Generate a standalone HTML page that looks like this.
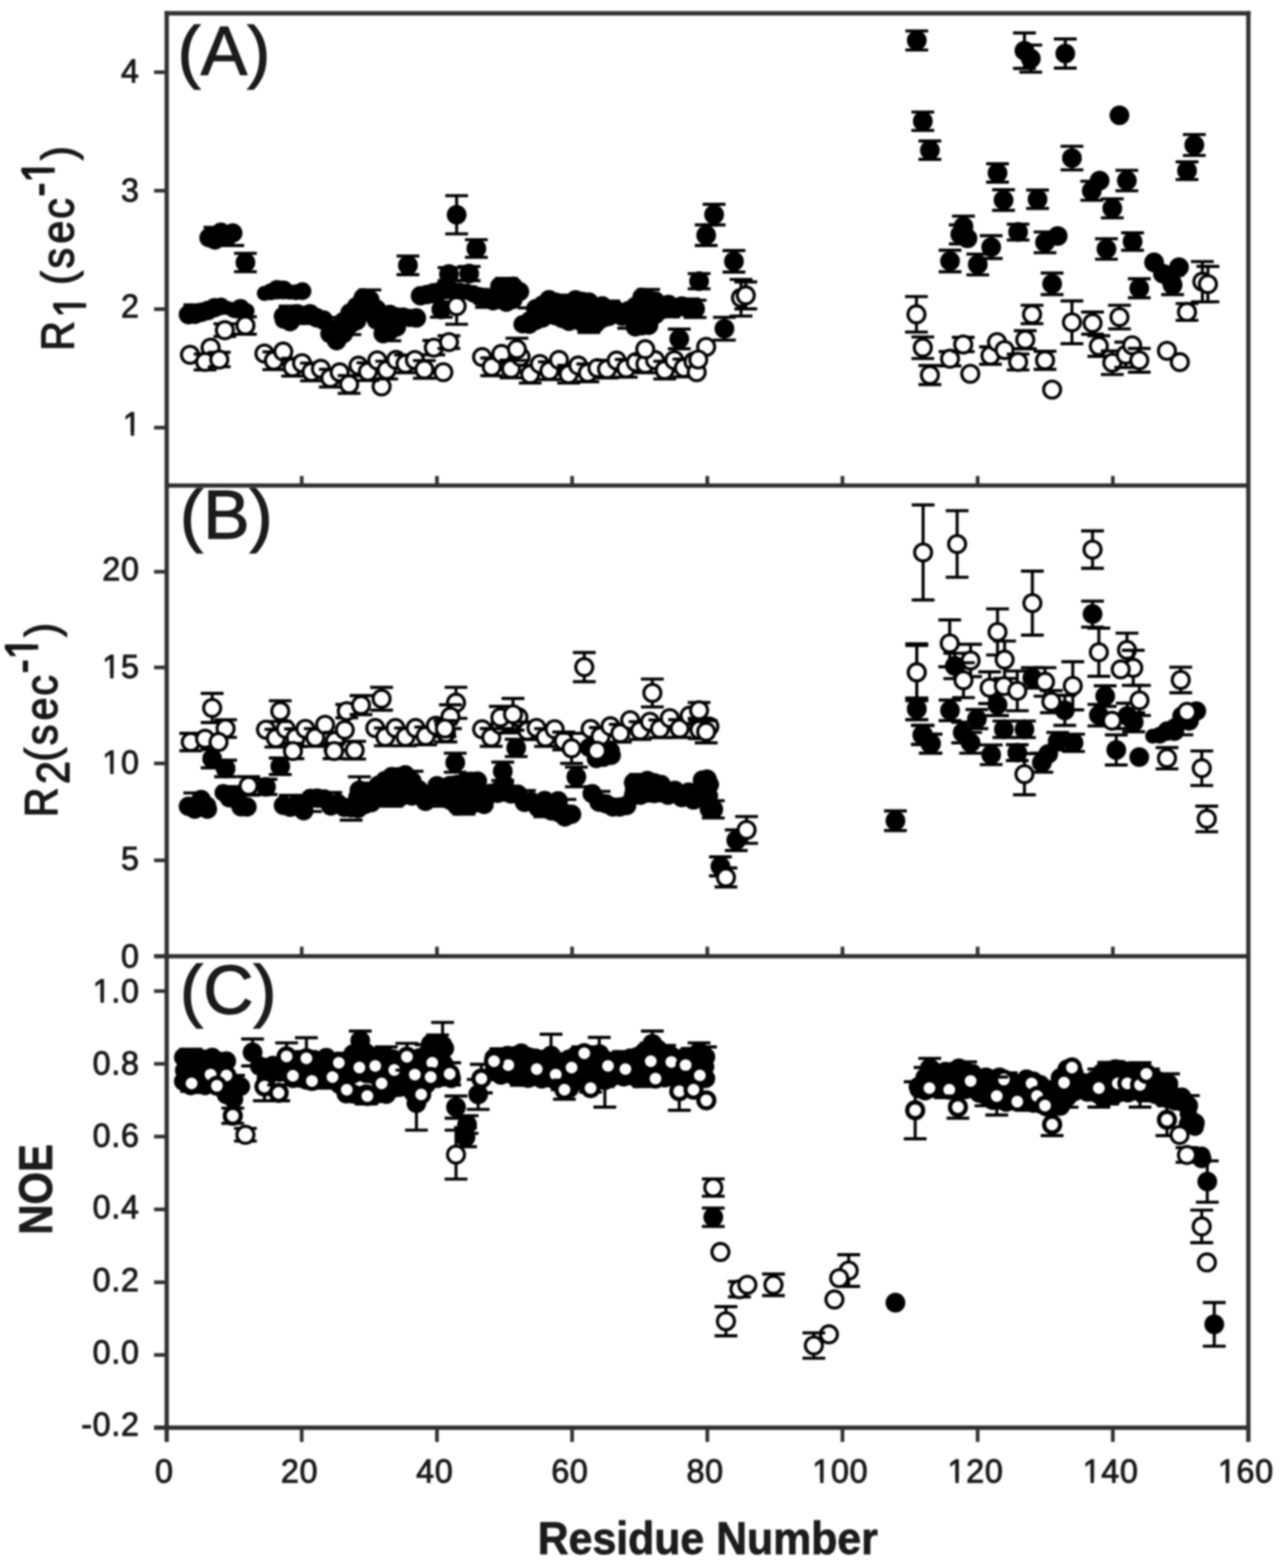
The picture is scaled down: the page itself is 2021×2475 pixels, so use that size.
<!DOCTYPE html><html><head><meta charset="utf-8"><title>Figure</title>
<style>html,body{margin:0;padding:0;background:#fff}svg{display:block}text{font-family:"Liberation Sans",Arial,sans-serif;fill:#1c1c1c}</style></head><body>
<svg width="2021" height="2475" viewBox="0 0 2021 2475">
<rect width="2021" height="2475" fill="#fff"/>
<defs><filter id="soft" x="0" y="0" width="100%" height="100%" filterUnits="userSpaceOnUse" color-interpolation-filters="sRGB"><feGaussianBlur stdDeviation="1.5"/></filter></defs>
<g filter="url(#soft)">
<rect width="2021" height="2475" fill="#fff"/>
<g id="pA">
<circle cx="330.0" cy="375.3" r="15.3" fill="#000"/>
<circle cx="339.4" cy="378.8" r="15.3" fill="#000"/>
<path d="M321.4 358.8H357.4" stroke="#000" stroke-width="4.8"/>
<circle cx="348.8" cy="366.6" r="15.3" fill="#000"/>
<circle cx="348.8" cy="371.6" r="13.8" fill="#000"/>
<circle cx="358.1" cy="374.7" r="15.3" fill="#000"/>
<circle cx="358.1" cy="369.4" r="13.8" fill="#000"/>
<circle cx="367.5" cy="367.8" r="15.3" fill="#000"/>
<path d="M349.5 387.5H385.5" stroke="#000" stroke-width="4.8"/>
<circle cx="417.5" cy="463.1" r="11.9" fill="#000"/>
<circle cx="427.5" cy="460.6" r="13.4" fill="#000"/>
<circle cx="437.5" cy="457.4" r="15.3" fill="#000"/>
<circle cx="447.5" cy="457.7" r="15.0" fill="#000"/>
<circle cx="457.5" cy="460.9" r="12.2" fill="#000"/>
<circle cx="467.5" cy="461.2" r="12.5" fill="#000"/>
<circle cx="477.5" cy="459.6" r="14.1" fill="#000"/>
<circle cx="297.5" cy="496.6" r="15.3" fill="#000"/>
<circle cx="307.8" cy="496.1" r="15.3" fill="#000"/>
<path d="M289.8 481.1H325.8" stroke="#000" stroke-width="4.8"/>
<circle cx="318.1" cy="492.9" r="15.3" fill="#000"/>
<circle cx="328.3" cy="490.1" r="15.3" fill="#000"/>
<circle cx="338.6" cy="485.7" r="15.3" fill="#000"/>
<circle cx="348.9" cy="483.7" r="14.0" fill="#000"/>
<circle cx="359.2" cy="486.2" r="11.2" fill="#000"/>
<circle cx="369.4" cy="489.3" r="12.8" fill="#000"/>
<circle cx="379.7" cy="487.2" r="15.3" fill="#000"/>
<circle cx="390.0" cy="490.6" r="11.9" fill="#000"/>
<circle cx="447.5" cy="499.1" r="15.3" fill="#000"/>
<circle cx="447.5" cy="505.0" r="13.8" fill="#000"/>
<circle cx="458.0" cy="507.8" r="15.3" fill="#000"/>
<circle cx="458.0" cy="501.9" r="13.8" fill="#000"/>
<path d="M440.0 483.1H476.0" stroke="#000" stroke-width="4.8"/>
<circle cx="468.5" cy="495.3" r="15.3" fill="#000"/>
<circle cx="479.0" cy="497.9" r="15.3" fill="#000"/>
<circle cx="489.5" cy="495.3" r="15.3" fill="#000"/>
<path d="M471.5 510.7H507.5" stroke="#000" stroke-width="4.8"/>
<circle cx="500.0" cy="501.6" r="15.3" fill="#000"/>
<circle cx="510.5" cy="505.1" r="15.3" fill="#000"/>
<circle cx="521.0" cy="526.7" r="15.3" fill="#000"/>
<circle cx="521.0" cy="520.4" r="13.8" fill="#000"/>
<path d="M503.0 501.2H539.0" stroke="#000" stroke-width="4.8"/>
<circle cx="531.5" cy="519.3" r="15.3" fill="#000"/>
<circle cx="531.5" cy="537.7" r="15.3" fill="#000"/>
<circle cx="531.5" cy="530.0" r="13.8" fill="#000"/>
<circle cx="542.0" cy="526.7" r="15.3" fill="#000"/>
<circle cx="542.0" cy="507.8" r="15.3" fill="#000"/>
<circle cx="542.0" cy="515.8" r="13.8" fill="#000"/>
<circle cx="552.5" cy="494.1" r="15.3" fill="#000"/>
<circle cx="552.5" cy="512.3" r="15.3" fill="#000"/>
<circle cx="552.5" cy="504.7" r="13.8" fill="#000"/>
<path d="M534.5 528.1H570.5" stroke="#000" stroke-width="4.8"/>
<circle cx="563.0" cy="506.2" r="15.3" fill="#000"/>
<circle cx="563.0" cy="483.8" r="15.3" fill="#000"/>
<circle cx="563.0" cy="493.5" r="13.8" fill="#000"/>
<circle cx="573.5" cy="470.1" r="15.3" fill="#000"/>
<circle cx="573.5" cy="493.4" r="15.3" fill="#000"/>
<circle cx="573.5" cy="483.2" r="13.8" fill="#000"/>
<circle cx="584.0" cy="491.6" r="15.3" fill="#000"/>
<circle cx="584.0" cy="473.4" r="15.3" fill="#000"/>
<circle cx="584.0" cy="481.0" r="13.8" fill="#000"/>
<path d="M566.0 457.6H602.0" stroke="#000" stroke-width="4.8"/>
<circle cx="594.5" cy="488.0" r="15.3" fill="#000"/>
<circle cx="594.5" cy="505.2" r="15.3" fill="#000"/>
<circle cx="594.5" cy="498.1" r="13.8" fill="#000"/>
<circle cx="605.0" cy="526.6" r="15.3" fill="#000"/>
<circle cx="605.0" cy="499.6" r="15.3" fill="#000"/>
<circle cx="605.0" cy="511.6" r="13.8" fill="#000"/>
<circle cx="615.5" cy="496.4" r="15.3" fill="#000"/>
<circle cx="615.5" cy="522.0" r="15.3" fill="#000"/>
<circle cx="615.5" cy="510.7" r="13.8" fill="#000"/>
<path d="M597.5 537.8H633.5" stroke="#000" stroke-width="4.8"/>
<circle cx="626.0" cy="516.2" r="15.3" fill="#000"/>
<circle cx="626.0" cy="500.3" r="15.3" fill="#000"/>
<circle cx="626.0" cy="506.8" r="13.8" fill="#000"/>
<circle cx="636.5" cy="500.6" r="15.3" fill="#000"/>
<circle cx="647.0" cy="501.8" r="14.4" fill="#000"/>
<circle cx="657.5" cy="501.9" r="15.3" fill="#000"/>
<circle cx="663.9" cy="466.9" r="15.3" fill="#000"/>
<circle cx="674.4" cy="464.9" r="15.3" fill="#000"/>
<circle cx="684.8" cy="462.1" r="15.3" fill="#000"/>
<circle cx="695.2" cy="459.6" r="15.1" fill="#000"/>
<circle cx="705.6" cy="458.4" r="14.0" fill="#000"/>
<circle cx="716.1" cy="458.7" r="13.4" fill="#000"/>
<circle cx="726.5" cy="459.3" r="13.0" fill="#000"/>
<circle cx="736.9" cy="460.4" r="13.0" fill="#000"/>
<circle cx="747.3" cy="463.7" r="13.7" fill="#000"/>
<circle cx="757.8" cy="468.3" r="15.0" fill="#000"/>
<circle cx="768.2" cy="469.6" r="15.3" fill="#000"/>
<path d="M750.2 485.0H786.2" stroke="#000" stroke-width="4.8"/>
<circle cx="778.6" cy="474.6" r="15.3" fill="#000"/>
<circle cx="778.6" cy="469.2" r="13.8" fill="#000"/>
<circle cx="789.0" cy="452.2" r="15.3" fill="#000"/>
<circle cx="789.0" cy="472.7" r="15.3" fill="#000"/>
<circle cx="789.0" cy="463.9" r="13.8" fill="#000"/>
<circle cx="799.5" cy="476.9" r="15.3" fill="#000"/>
<circle cx="799.5" cy="455.3" r="15.3" fill="#000"/>
<circle cx="799.5" cy="464.6" r="13.8" fill="#000"/>
<path d="M781.5 439.5H817.5" stroke="#000" stroke-width="4.8"/>
<circle cx="809.9" cy="451.9" r="15.3" fill="#000"/>
<circle cx="809.9" cy="472.8" r="15.3" fill="#000"/>
<circle cx="809.9" cy="463.9" r="13.8" fill="#000"/>
<circle cx="820.3" cy="460.2" r="15.3" fill="#000"/>
<circle cx="825.0" cy="511.9" r="14.4" fill="#000"/>
<circle cx="835.5" cy="511.8" r="15.3" fill="#000"/>
<circle cx="835.5" cy="505.3" r="13.8" fill="#000"/>
<path d="M817.5 486.0H853.5" stroke="#000" stroke-width="4.8"/>
<circle cx="846.0" cy="487.4" r="15.3" fill="#000"/>
<circle cx="846.0" cy="505.6" r="15.3" fill="#000"/>
<circle cx="846.0" cy="498.0" r="13.8" fill="#000"/>
<circle cx="856.4" cy="501.9" r="15.3" fill="#000"/>
<circle cx="856.4" cy="481.8" r="15.3" fill="#000"/>
<circle cx="856.4" cy="490.4" r="13.8" fill="#000"/>
<circle cx="866.9" cy="473.0" r="15.3" fill="#000"/>
<circle cx="866.9" cy="493.3" r="15.3" fill="#000"/>
<circle cx="866.9" cy="484.7" r="13.8" fill="#000"/>
<path d="M848.9 509.1H884.9" stroke="#000" stroke-width="4.8"/>
<circle cx="877.4" cy="498.4" r="15.3" fill="#000"/>
<circle cx="877.4" cy="477.0" r="15.3" fill="#000"/>
<circle cx="877.4" cy="486.2" r="13.8" fill="#000"/>
<circle cx="887.9" cy="483.4" r="15.3" fill="#000"/>
<circle cx="887.9" cy="502.7" r="15.3" fill="#000"/>
<circle cx="887.9" cy="494.6" r="13.8" fill="#000"/>
<circle cx="898.4" cy="507.2" r="15.3" fill="#000"/>
<circle cx="898.4" cy="481.6" r="15.3" fill="#000"/>
<circle cx="898.4" cy="492.9" r="13.8" fill="#000"/>
<path d="M880.4 465.8H916.4" stroke="#000" stroke-width="4.8"/>
<circle cx="908.8" cy="473.4" r="15.3" fill="#000"/>
<circle cx="908.8" cy="504.2" r="15.3" fill="#000"/>
<circle cx="908.8" cy="490.3" r="13.8" fill="#000"/>
<circle cx="919.3" cy="508.9" r="15.3" fill="#000"/>
<circle cx="919.3" cy="475.8" r="15.3" fill="#000"/>
<circle cx="919.3" cy="490.9" r="13.8" fill="#000"/>
<circle cx="929.8" cy="476.7" r="15.3" fill="#000"/>
<circle cx="929.8" cy="509.0" r="15.3" fill="#000"/>
<circle cx="929.8" cy="494.3" r="13.8" fill="#000"/>
<path d="M911.8 524.8H947.8" stroke="#000" stroke-width="4.8"/>
<circle cx="940.3" cy="510.8" r="15.3" fill="#000"/>
<circle cx="940.3" cy="485.8" r="15.3" fill="#000"/>
<circle cx="940.3" cy="496.8" r="13.8" fill="#000"/>
<circle cx="950.8" cy="482.8" r="15.3" fill="#000"/>
<circle cx="950.8" cy="502.6" r="15.3" fill="#000"/>
<circle cx="950.8" cy="494.2" r="13.8" fill="#000"/>
<circle cx="961.2" cy="499.4" r="15.3" fill="#000"/>
<circle cx="961.2" cy="493.8" r="13.8" fill="#000"/>
<path d="M943.2 475.2H979.2" stroke="#000" stroke-width="4.8"/>
<circle cx="971.7" cy="489.0" r="15.3" fill="#000"/>
<circle cx="982.2" cy="499.1" r="15.3" fill="#000"/>
<circle cx="982.2" cy="494.4" r="13.8" fill="#000"/>
<circle cx="992.7" cy="490.4" r="15.3" fill="#000"/>
<circle cx="992.7" cy="497.8" r="13.8" fill="#000"/>
<path d="M974.7 518.0H1010.7" stroke="#000" stroke-width="4.8"/>
<circle cx="1003.2" cy="516.0" r="15.3" fill="#000"/>
<circle cx="1003.2" cy="483.8" r="15.3" fill="#000"/>
<circle cx="1003.2" cy="498.4" r="13.8" fill="#000"/>
<circle cx="1013.7" cy="469.3" r="15.3" fill="#000"/>
<circle cx="1013.7" cy="514.1" r="15.3" fill="#000"/>
<circle cx="1013.7" cy="493.2" r="13.8" fill="#000"/>
<circle cx="1024.1" cy="513.5" r="15.3" fill="#000"/>
<circle cx="1024.1" cy="472.6" r="15.3" fill="#000"/>
<circle cx="1024.1" cy="491.6" r="13.8" fill="#000"/>
<path d="M1006.1 456.8H1042.1" stroke="#000" stroke-width="4.8"/>
<circle cx="1034.6" cy="475.3" r="15.3" fill="#000"/>
<circle cx="1034.6" cy="496.4" r="15.3" fill="#000"/>
<circle cx="1034.6" cy="487.3" r="13.8" fill="#000"/>
<circle cx="1045.1" cy="488.7" r="15.3" fill="#000"/>
<circle cx="1045.1" cy="483.9" r="13.8" fill="#000"/>
<circle cx="1055.6" cy="480.6" r="15.3" fill="#000"/>
<path d="M1037.6 500.0H1073.6" stroke="#000" stroke-width="4.8"/>
<circle cx="1066.1" cy="487.2" r="15.3" fill="#000"/>
<circle cx="1076.5" cy="483.0" r="15.3" fill="#000"/>
<circle cx="1087.0" cy="487.2" r="15.3" fill="#000"/>
<path d="M1069.0 471.9H1105.0" stroke="#000" stroke-width="4.8"/>
<circle cx="1097.5" cy="490.0" r="12.5" fill="#000"/>
<path d="M387.5 399.8V428.8M369.5 399.8H405.5M369.5 428.8H405.5" stroke="#000" stroke-width="4.8" fill="none"/><circle cx="387.5" cy="414.2" r="15.6" fill="#000"/>
<path d="M721.0 308.8V369.2M703.0 308.8H739.0M703.0 369.2H739.0" stroke="#000" stroke-width="4.8" fill="none"/><circle cx="721.0" cy="339.0" r="15.6" fill="#000"/>
<path d="M752.1 378.4V406.1M734.1 378.4H770.1M734.1 406.1H770.1" stroke="#000" stroke-width="4.8" fill="none"/><circle cx="752.1" cy="392.2" r="15.6" fill="#000"/>
<path d="M644.1 404.2V433.5M626.1 404.2H662.1M626.1 433.5H662.1" stroke="#000" stroke-width="4.8" fill="none"/><circle cx="644.1" cy="418.8" r="15.6" fill="#000"/>
<path d="M708.9 422.3V443.0M690.9 422.3H726.9M690.9 443.0H726.9" stroke="#000" stroke-width="4.8" fill="none"/><circle cx="708.9" cy="432.7" r="15.6" fill="#000"/>
<path d="M740.8 420.6V443.0M722.8 420.6H758.8M722.8 443.0H758.8" stroke="#000" stroke-width="4.8" fill="none"/><circle cx="740.8" cy="431.8" r="15.6" fill="#000"/>
<path d="M696.8 476.4V500.6M678.8 476.4H714.8M678.8 500.6H714.8" stroke="#000" stroke-width="4.8" fill="none"/><circle cx="696.8" cy="488.5" r="15.6" fill="#000"/>
<path d="M1072.5 519.5V550.5M1054.5 519.5H1090.5M1054.5 550.5H1090.5" stroke="#000" stroke-width="4.8" fill="none"/><circle cx="1072.5" cy="535.0" r="15.6" fill="#000"/>
<path d="M1127.5 322.5V355.0M1109.5 322.5H1145.5M1109.5 355.0H1145.5" stroke="#000" stroke-width="4.8" fill="none"/><circle cx="1127.5" cy="338.8" r="15.6" fill="#000"/>
<path d="M1115.0 355.0V387.5M1097.0 355.0H1133.0M1097.0 387.5H1133.0" stroke="#000" stroke-width="4.8" fill="none"/><circle cx="1115.0" cy="371.2" r="15.6" fill="#000"/>
<path d="M1158.8 395.5V429.5M1140.8 395.5H1176.8M1140.8 429.5H1176.8" stroke="#000" stroke-width="4.8" fill="none"/><circle cx="1158.8" cy="412.5" r="15.6" fill="#000"/>
<path d="M1103.8 431.8V455.8M1085.8 431.8H1121.8M1085.8 455.8H1121.8" stroke="#000" stroke-width="4.8" fill="none"/><circle cx="1103.8" cy="443.8" r="15.6" fill="#000"/>
<path d="M1143.8 500.8V536.8M1125.8 500.8H1161.8M1125.8 536.8H1161.8" stroke="#000" stroke-width="4.8" fill="none"/><circle cx="1143.8" cy="518.8" r="15.6" fill="#000"/>
<path d="M1097.5 473.8V501.2M1079.5 473.8H1115.5M1079.5 501.2H1115.5" stroke="#000" stroke-width="4.8" fill="none"/><circle cx="1097.5" cy="487.5" r="15.6" fill="#000"/>
<path d="M1447.5 48.8V78.8M1429.5 48.8H1465.5M1429.5 78.8H1465.5" stroke="#000" stroke-width="4.8" fill="none"/><circle cx="1447.5" cy="63.8" r="15.6" fill="#000"/>
<path d="M1617.5 52.0V108.0M1599.5 52.0H1635.5M1599.5 108.0H1635.5" stroke="#000" stroke-width="4.8" fill="none"/><circle cx="1617.5" cy="80.0" r="15.6" fill="#000"/>
<path d="M1627.5 71.2V113.8M1609.5 71.2H1645.5M1609.5 113.8H1645.5" stroke="#000" stroke-width="4.8" fill="none"/><circle cx="1627.5" cy="92.5" r="15.6" fill="#000"/>
<path d="M1682.0 61.5V107.5M1664.0 61.5H1700.0M1664.0 107.5H1700.0" stroke="#000" stroke-width="4.8" fill="none"/><circle cx="1682.0" cy="84.5" r="15.6" fill="#000"/>
<path d="M1457.0 176.8V205.8M1439.0 176.8H1475.0M1439.0 205.8H1475.0" stroke="#000" stroke-width="4.8" fill="none"/><circle cx="1457.0" cy="191.2" r="15.6" fill="#000"/>
<path d="M1468.2 222.5V251.5M1450.2 222.5H1486.2M1450.2 251.5H1486.2" stroke="#000" stroke-width="4.8" fill="none"/><circle cx="1468.2" cy="237.0" r="15.6" fill="#000"/>
<circle cx="1767.5" cy="182.0" r="15.6" fill="#000"/>
<path d="M1692.5 230.8V268.2M1674.5 230.8H1710.5M1674.5 268.2H1710.5" stroke="#000" stroke-width="4.8" fill="none"/><circle cx="1692.5" cy="249.5" r="15.6" fill="#000"/>
<path d="M1575.0 258.5V287.5M1557.0 258.5H1593.0M1557.0 287.5H1593.0" stroke="#000" stroke-width="4.8" fill="none"/><circle cx="1575.0" cy="273.0" r="15.6" fill="#000"/>
<path d="M1584.5 299.5V332.0M1566.5 299.5H1602.5M1566.5 332.0H1602.5" stroke="#000" stroke-width="4.8" fill="none"/><circle cx="1584.5" cy="315.8" r="15.6" fill="#000"/>
<path d="M1638.2 300.0V329.0M1620.2 300.0H1656.2M1620.2 329.0H1656.2" stroke="#000" stroke-width="4.8" fill="none"/><circle cx="1638.2" cy="314.5" r="15.6" fill="#000"/>
<circle cx="1736.2" cy="285.0" r="15.6" fill="#000"/>
<path d="M1723.8 286.2V316.2M1705.8 286.2H1741.8M1705.8 316.2H1741.8" stroke="#000" stroke-width="4.8" fill="none"/><circle cx="1723.8" cy="301.2" r="15.6" fill="#000"/>
<path d="M1779.2 268.8V301.2M1761.2 268.8H1797.2M1761.2 301.2H1797.2" stroke="#000" stroke-width="4.8" fill="none"/><circle cx="1779.2" cy="285.0" r="15.6" fill="#000"/>
<path d="M1756.2 313.8V343.8M1738.2 313.8H1774.2M1738.2 343.8H1774.2" stroke="#000" stroke-width="4.8" fill="none"/><circle cx="1756.2" cy="328.8" r="15.6" fill="#000"/>
<path d="M1521.2 341.2V373.8M1503.2 341.2H1539.2M1503.2 373.8H1539.2" stroke="#000" stroke-width="4.8" fill="none"/><circle cx="1521.2" cy="357.5" r="15.6" fill="#000"/>
<path d="M1516.2 355.0V385.0M1498.2 355.0H1534.2M1498.2 385.0H1534.2" stroke="#000" stroke-width="4.8" fill="none"/><circle cx="1516.2" cy="370.0" r="15.6" fill="#000"/>
<circle cx="1527.5" cy="376.2" r="15.6" fill="#000"/>
<path d="M1565.0 372.0V408.0M1547.0 372.0H1583.0M1547.0 408.0H1583.0" stroke="#000" stroke-width="4.8" fill="none"/><circle cx="1565.0" cy="390.0" r="15.6" fill="#000"/>
<path d="M1500.0 395.0V429.0M1482.0 395.0H1518.0M1482.0 429.0H1518.0" stroke="#000" stroke-width="4.8" fill="none"/><circle cx="1500.0" cy="412.0" r="15.6" fill="#000"/>
<path d="M1543.8 401.2V433.8M1525.8 401.2H1561.8M1525.8 433.8H1561.8" stroke="#000" stroke-width="4.8" fill="none"/><circle cx="1543.8" cy="417.5" r="15.6" fill="#000"/>
<path d="M1607.5 353.8V378.8M1589.5 353.8H1625.5M1589.5 378.8H1625.5" stroke="#000" stroke-width="4.8" fill="none"/><circle cx="1607.5" cy="366.2" r="15.6" fill="#000"/>
<path d="M1650.0 366.2V398.8M1632.0 366.2H1668.0M1632.0 398.8H1668.0" stroke="#000" stroke-width="4.8" fill="none"/><circle cx="1650.0" cy="382.5" r="15.6" fill="#000"/>
<circle cx="1670.0" cy="372.5" r="15.6" fill="#000"/>
<path d="M1747.0 376.8V409.2M1729.0 376.8H1765.0M1729.0 409.2H1765.0" stroke="#000" stroke-width="4.8" fill="none"/><circle cx="1747.0" cy="393.0" r="15.6" fill="#000"/>
<path d="M1788.2 367.5V395.0M1770.2 367.5H1806.2M1770.2 395.0H1806.2" stroke="#000" stroke-width="4.8" fill="none"/><circle cx="1788.2" cy="381.2" r="15.6" fill="#000"/>
<path d="M1661.2 431.0V465.0M1643.2 431.0H1679.2M1643.2 465.0H1679.2" stroke="#000" stroke-width="4.8" fill="none"/><circle cx="1661.2" cy="448.0" r="15.6" fill="#000"/>
<path d="M1798.8 440.0V470.0M1780.8 440.0H1816.8M1780.8 470.0H1816.8" stroke="#000" stroke-width="4.8" fill="none"/><circle cx="1798.8" cy="455.0" r="15.6" fill="#000"/>
<path d="M1885.7 212.4V245.4M1867.7 212.4H1903.7M1867.7 245.4H1903.7" stroke="#000" stroke-width="4.8" fill="none"/><circle cx="1885.7" cy="228.9" r="15.6" fill="#000"/>
<path d="M1874.2 255.5V283.4M1856.2 255.5H1892.2M1856.2 283.4H1892.2" stroke="#000" stroke-width="4.8" fill="none"/><circle cx="1874.2" cy="269.5" r="15.6" fill="#000"/>
<circle cx="1822.2" cy="414.2" r="15.6" fill="#000"/>
<circle cx="1836.2" cy="432.0" r="15.6" fill="#000"/>
<circle cx="1848.9" cy="442.1" r="15.6" fill="#000"/>
<circle cx="1861.5" cy="421.8" r="15.6" fill="#000"/>
<path d="M1851.4 434.5V465.0M1833.4 434.5H1869.4M1833.4 465.0H1869.4" stroke="#000" stroke-width="4.8" fill="none"/><circle cx="1851.4" cy="449.7" r="15.6" fill="#000"/>
<path d="M355.0 511.2V531.2M337.0 511.2H373.0M337.0 531.2H373.0" stroke="#000" stroke-width="4.8" fill="none"/><circle cx="355.0" cy="521.2" r="13.4" fill="#fff" stroke="#000" stroke-width="4.9"/>
<path d="M387.5 500.0V527.5M369.5 500.0H405.5M369.5 527.5H405.5" stroke="#000" stroke-width="4.8" fill="none"/><circle cx="387.5" cy="513.8" r="13.4" fill="#fff" stroke="#000" stroke-width="4.9"/>
<circle cx="300.0" cy="560.0" r="13.4" fill="#fff" stroke="#000" stroke-width="4.9"/>
<circle cx="332.5" cy="548.8" r="13.4" fill="#fff" stroke="#000" stroke-width="4.9"/>
<path d="M323.8 558.8V583.8M305.8 558.8H341.8M305.8 583.8H341.8" stroke="#000" stroke-width="4.8" fill="none"/><circle cx="323.8" cy="571.2" r="13.4" fill="#fff" stroke="#000" stroke-width="4.9"/>
<path d="M346.2 556.2V578.8M328.2 556.2H364.2M328.2 578.8H364.2" stroke="#000" stroke-width="4.8" fill="none"/><circle cx="346.2" cy="567.5" r="13.4" fill="#fff" stroke="#000" stroke-width="4.9"/>
<circle cx="602.5" cy="610.0" r="13.4" fill="#fff" stroke="#000" stroke-width="4.9"/>
<circle cx="417.5" cy="558.0" r="13.4" fill="#fff" stroke="#000" stroke-width="4.9"/>
<path d="M432.4 555.3V583.3M414.4 555.3H450.4M414.4 583.3H450.4" stroke="#000" stroke-width="4.8" fill="none"/><circle cx="432.4" cy="569.3" r="13.4" fill="#fff" stroke="#000" stroke-width="4.9"/>
<circle cx="447.2" cy="554.9" r="13.4" fill="#fff" stroke="#000" stroke-width="4.9"/>
<path d="M462.1 565.7V593.7M444.1 565.7H480.1M444.1 593.7H480.1" stroke="#000" stroke-width="4.8" fill="none"/><circle cx="462.1" cy="579.7" r="13.4" fill="#fff" stroke="#000" stroke-width="4.9"/>
<circle cx="476.9" cy="573.3" r="13.4" fill="#fff" stroke="#000" stroke-width="4.9"/>
<path d="M491.8 573.1V601.1M473.8 573.1H509.8M473.8 601.1H509.8" stroke="#000" stroke-width="4.8" fill="none"/><circle cx="491.8" cy="587.1" r="13.4" fill="#fff" stroke="#000" stroke-width="4.9"/>
<circle cx="506.6" cy="582.1" r="13.4" fill="#fff" stroke="#000" stroke-width="4.9"/>
<path d="M521.5 582.8V610.8M503.5 582.8H539.5M503.5 610.8H539.5" stroke="#000" stroke-width="4.8" fill="none"/><circle cx="521.5" cy="596.8" r="13.4" fill="#fff" stroke="#000" stroke-width="4.9"/>
<circle cx="536.3" cy="587.7" r="13.4" fill="#fff" stroke="#000" stroke-width="4.9"/>
<path d="M551.2 592.8V620.8M533.2 592.8H569.2M533.2 620.8H569.2" stroke="#000" stroke-width="4.8" fill="none"/><circle cx="551.2" cy="606.8" r="13.4" fill="#fff" stroke="#000" stroke-width="4.9"/>
<circle cx="566.0" cy="577.1" r="13.4" fill="#fff" stroke="#000" stroke-width="4.9"/>
<path d="M580.9 572.6V600.6M562.9 572.6H598.9M562.9 600.6H598.9" stroke="#000" stroke-width="4.8" fill="none"/><circle cx="580.9" cy="586.6" r="13.4" fill="#fff" stroke="#000" stroke-width="4.9"/>
<circle cx="595.7" cy="568.8" r="13.4" fill="#fff" stroke="#000" stroke-width="4.9"/>
<path d="M610.6 570.1V598.1M592.6 570.1H628.6M592.6 598.1H628.6" stroke="#000" stroke-width="4.8" fill="none"/><circle cx="610.6" cy="584.1" r="13.4" fill="#fff" stroke="#000" stroke-width="4.9"/>
<circle cx="625.4" cy="568.1" r="13.4" fill="#fff" stroke="#000" stroke-width="4.9"/>
<path d="M640.3 560.3V588.3M622.3 560.3H658.3M622.3 588.3H658.3" stroke="#000" stroke-width="4.8" fill="none"/><circle cx="640.3" cy="574.3" r="13.4" fill="#fff" stroke="#000" stroke-width="4.9"/>
<circle cx="655.1" cy="568.3" r="13.4" fill="#fff" stroke="#000" stroke-width="4.9"/>
<path d="M670.0 569.2V597.2M652.0 569.2H688.0M652.0 597.2H688.0" stroke="#000" stroke-width="4.8" fill="none"/><circle cx="670.0" cy="583.2" r="13.4" fill="#fff" stroke="#000" stroke-width="4.9"/>
<path d="M685.0 537.5V560.0M667.0 537.5H703.0M667.0 560.0H703.0" stroke="#000" stroke-width="4.8" fill="none"/><circle cx="685.0" cy="548.8" r="13.4" fill="#fff" stroke="#000" stroke-width="4.9"/>
<path d="M721.0 454.8V511.8M703.0 454.8H739.0M703.0 511.8H739.0" stroke="#000" stroke-width="4.8" fill="none"/><circle cx="721.0" cy="483.3" r="13.4" fill="#fff" stroke="#000" stroke-width="4.9"/>
<path d="M708.8 530.0V550.0M690.8 530.0H726.8M690.8 550.0H726.8" stroke="#000" stroke-width="4.8" fill="none"/><circle cx="708.8" cy="540.0" r="13.4" fill="#fff" stroke="#000" stroke-width="4.9"/>
<circle cx="700.0" cy="587.5" r="13.4" fill="#fff" stroke="#000" stroke-width="4.9"/>
<circle cx="761.2" cy="563.6" r="13.4" fill="#fff" stroke="#000" stroke-width="4.9"/>
<path d="M776.4 565.0V593.0M758.4 565.0H794.4M758.4 593.0H794.4" stroke="#000" stroke-width="4.8" fill="none"/><circle cx="776.4" cy="579.0" r="13.4" fill="#fff" stroke="#000" stroke-width="4.9"/>
<circle cx="791.6" cy="558.6" r="13.4" fill="#fff" stroke="#000" stroke-width="4.9"/>
<path d="M806.8 568.3V596.3M788.8 568.3H824.8M788.8 596.3H824.8" stroke="#000" stroke-width="4.8" fill="none"/><circle cx="806.8" cy="582.3" r="13.4" fill="#fff" stroke="#000" stroke-width="4.9"/>
<circle cx="821.9" cy="563.2" r="13.4" fill="#fff" stroke="#000" stroke-width="4.9"/>
<path d="M837.1 576.7V604.7M819.1 576.7H855.1M819.1 604.7H855.1" stroke="#000" stroke-width="4.8" fill="none"/><circle cx="837.1" cy="590.7" r="13.4" fill="#fff" stroke="#000" stroke-width="4.9"/>
<circle cx="852.3" cy="574.5" r="13.4" fill="#fff" stroke="#000" stroke-width="4.9"/>
<path d="M867.4 571.2V599.2M849.4 571.2H885.4M849.4 599.2H885.4" stroke="#000" stroke-width="4.8" fill="none"/><circle cx="867.4" cy="585.2" r="13.4" fill="#fff" stroke="#000" stroke-width="4.9"/>
<circle cx="882.6" cy="568.1" r="13.4" fill="#fff" stroke="#000" stroke-width="4.9"/>
<path d="M897.8 576.7V604.7M879.8 576.7H915.8M879.8 604.7H915.8" stroke="#000" stroke-width="4.8" fill="none"/><circle cx="897.8" cy="590.7" r="13.4" fill="#fff" stroke="#000" stroke-width="4.9"/>
<circle cx="913.0" cy="576.9" r="13.4" fill="#fff" stroke="#000" stroke-width="4.9"/>
<path d="M928.1 574.5V602.5M910.1 574.5H946.1M910.1 602.5H946.1" stroke="#000" stroke-width="4.8" fill="none"/><circle cx="928.1" cy="588.5" r="13.4" fill="#fff" stroke="#000" stroke-width="4.9"/>
<circle cx="943.3" cy="581.0" r="13.4" fill="#fff" stroke="#000" stroke-width="4.9"/>
<path d="M958.5 568.7V596.7M940.5 568.7H976.5M940.5 596.7H976.5" stroke="#000" stroke-width="4.8" fill="none"/><circle cx="958.5" cy="582.7" r="13.4" fill="#fff" stroke="#000" stroke-width="4.9"/>
<circle cx="973.6" cy="569.1" r="13.4" fill="#fff" stroke="#000" stroke-width="4.9"/>
<path d="M988.8 567.4V595.4M970.8 567.4H1006.8M970.8 595.4H1006.8" stroke="#000" stroke-width="4.8" fill="none"/><circle cx="988.8" cy="581.4" r="13.4" fill="#fff" stroke="#000" stroke-width="4.9"/>
<circle cx="1004.0" cy="571.7" r="13.4" fill="#fff" stroke="#000" stroke-width="4.9"/>
<path d="M1019.1 560.4V588.4M1001.1 560.4H1037.1M1001.1 588.4H1037.1" stroke="#000" stroke-width="4.8" fill="none"/><circle cx="1019.1" cy="574.4" r="13.4" fill="#fff" stroke="#000" stroke-width="4.9"/>
<circle cx="1034.3" cy="568.4" r="13.4" fill="#fff" stroke="#000" stroke-width="4.9"/>
<path d="M1049.5 570.2V598.2M1031.5 570.2H1067.5M1031.5 598.2H1067.5" stroke="#000" stroke-width="4.8" fill="none"/><circle cx="1049.5" cy="584.2" r="13.4" fill="#fff" stroke="#000" stroke-width="4.9"/>
<circle cx="1064.7" cy="568.5" r="13.4" fill="#fff" stroke="#000" stroke-width="4.9"/>
<path d="M1079.8 566.8V594.8M1061.8 566.8H1097.8M1061.8 594.8H1097.8" stroke="#000" stroke-width="4.8" fill="none"/><circle cx="1079.8" cy="580.8" r="13.4" fill="#fff" stroke="#000" stroke-width="4.9"/>
<circle cx="1095.0" cy="570.8" r="13.4" fill="#fff" stroke="#000" stroke-width="4.9"/>
<path d="M816.2 533.8V568.8M798.2 533.8H834.2M798.2 568.8H834.2" stroke="#000" stroke-width="4.8" fill="none"/><circle cx="816.2" cy="551.2" r="13.4" fill="#fff" stroke="#000" stroke-width="4.9"/>
<circle cx="1018.8" cy="551.2" r="13.4" fill="#fff" stroke="#000" stroke-width="4.9"/>
<path d="M1170.0 441.2V498.8M1152.0 441.2H1188.0M1152.0 498.8H1188.0" stroke="#000" stroke-width="4.8" fill="none"/><circle cx="1170.0" cy="470.0" r="13.4" fill="#fff" stroke="#000" stroke-width="4.9"/>
<path d="M1177.5 445.0V487.5M1159.5 445.0H1195.5M1159.5 487.5H1195.5" stroke="#000" stroke-width="4.8" fill="none"/><circle cx="1177.5" cy="466.2" r="13.4" fill="#fff" stroke="#000" stroke-width="4.9"/>
<circle cx="1115.0" cy="547.5" r="13.4" fill="#fff" stroke="#000" stroke-width="4.9"/>
<circle cx="1100.0" cy="587.5" r="13.4" fill="#fff" stroke="#000" stroke-width="4.9"/>
<circle cx="1102.5" cy="567.5" r="13.4" fill="#fff" stroke="#000" stroke-width="4.9"/>
<path d="M1447.0 468.2V524.2M1429.0 468.2H1465.0M1429.0 524.2H1465.0" stroke="#000" stroke-width="4.8" fill="none"/><circle cx="1447.0" cy="496.2" r="13.4" fill="#fff" stroke="#000" stroke-width="4.9"/>
<path d="M1457.0 531.8V565.8M1439.0 531.8H1475.0M1439.0 565.8H1475.0" stroke="#000" stroke-width="4.8" fill="none"/><circle cx="1457.0" cy="548.8" r="13.4" fill="#fff" stroke="#000" stroke-width="4.9"/>
<path d="M1468.2 577.0V607.0M1450.2 577.0H1486.2M1450.2 607.0H1486.2" stroke="#000" stroke-width="4.8" fill="none"/><circle cx="1468.2" cy="592.0" r="13.4" fill="#fff" stroke="#000" stroke-width="4.9"/>
<path d="M1500.0 555.0V577.5M1482.0 555.0H1518.0M1482.0 577.5H1518.0" stroke="#000" stroke-width="4.8" fill="none"/><circle cx="1500.0" cy="566.2" r="13.4" fill="#fff" stroke="#000" stroke-width="4.9"/>
<path d="M1520.8 532.5V555.0M1502.8 532.5H1538.8M1502.8 555.0H1538.8" stroke="#000" stroke-width="4.8" fill="none"/><circle cx="1520.8" cy="543.8" r="13.4" fill="#fff" stroke="#000" stroke-width="4.9"/>
<circle cx="1532.0" cy="590.0" r="13.4" fill="#fff" stroke="#000" stroke-width="4.9"/>
<path d="M1563.8 547.5V575.0M1545.8 547.5H1581.8M1545.8 575.0H1581.8" stroke="#000" stroke-width="4.8" fill="none"/><circle cx="1563.8" cy="561.2" r="13.4" fill="#fff" stroke="#000" stroke-width="4.9"/>
<circle cx="1574.2" cy="540.0" r="13.4" fill="#fff" stroke="#000" stroke-width="4.9"/>
<circle cx="1586.2" cy="552.5" r="13.4" fill="#fff" stroke="#000" stroke-width="4.9"/>
<path d="M1618.8 522.0V550.5M1600.8 522.0H1636.8M1600.8 550.5H1636.8" stroke="#000" stroke-width="4.8" fill="none"/><circle cx="1618.8" cy="536.2" r="13.4" fill="#fff" stroke="#000" stroke-width="4.9"/>
<path d="M1607.5 558.8V583.8M1589.5 558.8H1625.5M1589.5 583.8H1625.5" stroke="#000" stroke-width="4.8" fill="none"/><circle cx="1607.5" cy="571.2" r="13.4" fill="#fff" stroke="#000" stroke-width="4.9"/>
<path d="M1629.5 481.8V510.8M1611.5 481.8H1647.5M1611.5 510.8H1647.5" stroke="#000" stroke-width="4.8" fill="none"/><circle cx="1629.5" cy="496.2" r="13.4" fill="#fff" stroke="#000" stroke-width="4.9"/>
<path d="M1650.0 554.5V583.0M1632.0 554.5H1668.0M1632.0 583.0H1668.0" stroke="#000" stroke-width="4.8" fill="none"/><circle cx="1650.0" cy="568.8" r="13.4" fill="#fff" stroke="#000" stroke-width="4.9"/>
<circle cx="1661.2" cy="615.0" r="13.4" fill="#fff" stroke="#000" stroke-width="4.9"/>
<path d="M1692.5 475.0V542.5M1674.5 475.0H1710.5M1674.5 542.5H1710.5" stroke="#000" stroke-width="4.8" fill="none"/><circle cx="1692.5" cy="508.8" r="13.4" fill="#fff" stroke="#000" stroke-width="4.9"/>
<path d="M1725.0 492.5V527.5M1707.0 492.5H1743.0M1707.0 527.5H1743.0" stroke="#000" stroke-width="4.8" fill="none"/><circle cx="1725.0" cy="510.0" r="13.4" fill="#fff" stroke="#000" stroke-width="4.9"/>
<path d="M1767.5 481.8V519.2M1749.5 481.8H1785.5M1749.5 519.2H1785.5" stroke="#000" stroke-width="4.8" fill="none"/><circle cx="1767.5" cy="500.5" r="13.4" fill="#fff" stroke="#000" stroke-width="4.9"/>
<path d="M1735.0 530.0V562.5M1717.0 530.0H1753.0M1717.0 562.5H1753.0" stroke="#000" stroke-width="4.8" fill="none"/><circle cx="1735.0" cy="546.2" r="13.4" fill="#fff" stroke="#000" stroke-width="4.9"/>
<path d="M1756.2 553.8V591.2M1738.2 553.8H1774.2M1738.2 591.2H1774.2" stroke="#000" stroke-width="4.8" fill="none"/><circle cx="1756.2" cy="572.5" r="13.4" fill="#fff" stroke="#000" stroke-width="4.9"/>
<path d="M1777.5 540.0V580.0M1759.5 540.0H1795.5M1759.5 580.0H1795.5" stroke="#000" stroke-width="4.8" fill="none"/><circle cx="1777.5" cy="560.0" r="13.4" fill="#fff" stroke="#000" stroke-width="4.9"/>
<circle cx="1787.5" cy="545.0" r="13.4" fill="#fff" stroke="#000" stroke-width="4.9"/>
<path d="M1798.8 550.0V587.5M1780.8 550.0H1816.8M1780.8 587.5H1816.8" stroke="#000" stroke-width="4.8" fill="none"/><circle cx="1798.8" cy="568.8" r="13.4" fill="#fff" stroke="#000" stroke-width="4.9"/>
<circle cx="1842.5" cy="553.8" r="13.4" fill="#fff" stroke="#000" stroke-width="4.9"/>
<path d="M1898.4 412.9V476.4M1880.4 412.9H1916.4M1880.4 476.4H1916.4" stroke="#000" stroke-width="4.8" fill="none"/><circle cx="1898.4" cy="444.6" r="13.4" fill="#fff" stroke="#000" stroke-width="4.9"/>
<path d="M1907.2 420.5V476.4M1889.2 420.5H1925.2M1889.2 476.4H1925.2" stroke="#000" stroke-width="4.8" fill="none"/><circle cx="1907.2" cy="448.5" r="13.4" fill="#fff" stroke="#000" stroke-width="4.9"/>
<path d="M1874.2 479.2V505.6M1856.2 479.2H1892.2M1856.2 505.6H1892.2" stroke="#000" stroke-width="4.8" fill="none"/><circle cx="1874.2" cy="492.4" r="13.4" fill="#fff" stroke="#000" stroke-width="4.9"/>
<circle cx="1862.8" cy="571.6" r="13.4" fill="#fff" stroke="#000" stroke-width="4.9"/>
</g>
<g id="pB">
<circle cx="297.5" cy="1272.8" r="15.3" fill="#000"/>
<circle cx="307.5" cy="1277.2" r="15.3" fill="#000"/>
<circle cx="307.5" cy="1270.8" r="13.8" fill="#000"/>
<path d="M289.5 1251.7H325.5" stroke="#000" stroke-width="4.8"/>
<circle cx="317.5" cy="1262.0" r="15.3" fill="#000"/>
<circle cx="317.5" cy="1269.6" r="13.8" fill="#000"/>
<circle cx="327.5" cy="1277.2" r="15.3" fill="#000"/>
<circle cx="327.5" cy="1271.2" r="13.8" fill="#000"/>
<circle cx="352.5" cy="1251.2" r="13.8" fill="#000"/>
<circle cx="361.9" cy="1259.1" r="15.3" fill="#000"/>
<path d="M343.9 1241.6H379.9" stroke="#000" stroke-width="4.8"/>
<circle cx="371.2" cy="1257.8" r="15.3" fill="#000"/>
<circle cx="371.2" cy="1262.5" r="13.8" fill="#000"/>
<circle cx="380.6" cy="1273.5" r="15.3" fill="#000"/>
<circle cx="380.6" cy="1268.8" r="13.8" fill="#000"/>
<circle cx="390.0" cy="1273.8" r="15.3" fill="#000"/>
<circle cx="447.5" cy="1271.2" r="15.3" fill="#000"/>
<circle cx="458.2" cy="1274.3" r="15.3" fill="#000"/>
<path d="M440.2 1255.4H476.2" stroke="#000" stroke-width="4.8"/>
<circle cx="468.9" cy="1269.4" r="15.3" fill="#000"/>
<circle cx="468.9" cy="1274.5" r="13.8" fill="#000"/>
<circle cx="479.6" cy="1279.6" r="15.3" fill="#000"/>
<circle cx="479.6" cy="1273.0" r="13.8" fill="#000"/>
<circle cx="490.2" cy="1260.2" r="15.3" fill="#000"/>
<path d="M472.2 1280.8H508.2" stroke="#000" stroke-width="4.8"/>
<circle cx="500.9" cy="1259.9" r="15.3" fill="#000"/>
<circle cx="511.6" cy="1261.1" r="15.3" fill="#000"/>
<circle cx="522.3" cy="1272.2" r="15.3" fill="#000"/>
<path d="M504.3 1250.9H540.3" stroke="#000" stroke-width="4.8"/>
<circle cx="533.0" cy="1268.0" r="15.3" fill="#000"/>
<circle cx="543.7" cy="1274.4" r="15.3" fill="#000"/>
<circle cx="554.4" cy="1275.1" r="15.3" fill="#000"/>
<path d="M536.4 1294.5H572.4" stroke="#000" stroke-width="4.8"/>
<circle cx="565.1" cy="1276.2" r="15.3" fill="#000"/>
<circle cx="565.1" cy="1258.2" r="15.3" fill="#000"/>
<circle cx="565.1" cy="1265.7" r="13.8" fill="#000"/>
<circle cx="575.8" cy="1252.0" r="15.3" fill="#000"/>
<circle cx="575.8" cy="1270.0" r="15.3" fill="#000"/>
<circle cx="575.8" cy="1262.5" r="13.8" fill="#000"/>
<circle cx="586.4" cy="1267.0" r="15.3" fill="#000"/>
<circle cx="586.4" cy="1258.0" r="13.8" fill="#000"/>
<path d="M568.4 1236.1H604.4" stroke="#000" stroke-width="4.8"/>
<circle cx="597.1" cy="1239.8" r="15.3" fill="#000"/>
<circle cx="597.1" cy="1258.3" r="15.3" fill="#000"/>
<circle cx="597.1" cy="1250.5" r="13.8" fill="#000"/>
<circle cx="607.8" cy="1259.7" r="15.3" fill="#000"/>
<circle cx="607.8" cy="1232.4" r="15.3" fill="#000"/>
<circle cx="607.8" cy="1244.5" r="13.8" fill="#000"/>
<circle cx="618.5" cy="1225.8" r="15.3" fill="#000"/>
<circle cx="618.5" cy="1256.7" r="15.3" fill="#000"/>
<circle cx="618.5" cy="1242.8" r="13.8" fill="#000"/>
<path d="M600.5 1272.5H636.5" stroke="#000" stroke-width="4.8"/>
<circle cx="629.2" cy="1259.7" r="15.3" fill="#000"/>
<circle cx="629.2" cy="1226.0" r="15.3" fill="#000"/>
<circle cx="629.2" cy="1241.4" r="13.8" fill="#000"/>
<circle cx="639.9" cy="1223.0" r="15.3" fill="#000"/>
<circle cx="639.9" cy="1254.8" r="15.3" fill="#000"/>
<circle cx="639.9" cy="1240.4" r="13.8" fill="#000"/>
<circle cx="650.6" cy="1256.5" r="15.3" fill="#000"/>
<circle cx="650.6" cy="1233.2" r="15.3" fill="#000"/>
<circle cx="650.6" cy="1243.4" r="13.8" fill="#000"/>
<path d="M632.6 1217.4H668.6" stroke="#000" stroke-width="4.8"/>
<circle cx="661.2" cy="1246.5" r="15.3" fill="#000"/>
<circle cx="661.2" cy="1254.6" r="13.8" fill="#000"/>
<circle cx="671.9" cy="1265.0" r="15.3" fill="#000"/>
<circle cx="671.9" cy="1259.9" r="13.8" fill="#000"/>
<circle cx="682.6" cy="1252.7" r="15.3" fill="#000"/>
<path d="M664.6 1272.5H700.6" stroke="#000" stroke-width="4.8"/>
<circle cx="693.3" cy="1255.4" r="15.3" fill="#000"/>
<circle cx="704.0" cy="1242.8" r="15.3" fill="#000"/>
<circle cx="704.0" cy="1248.8" r="13.8" fill="#000"/>
<circle cx="690.0" cy="1240.3" r="15.3" fill="#000"/>
<circle cx="690.0" cy="1247.5" r="13.8" fill="#000"/>
<circle cx="700.6" cy="1259.0" r="15.3" fill="#000"/>
<circle cx="700.6" cy="1251.8" r="13.8" fill="#000"/>
<path d="M682.6 1231.8H718.6" stroke="#000" stroke-width="4.8"/>
<circle cx="711.2" cy="1239.9" r="15.3" fill="#000"/>
<circle cx="711.2" cy="1263.4" r="15.3" fill="#000"/>
<circle cx="711.2" cy="1253.2" r="13.8" fill="#000"/>
<circle cx="721.9" cy="1272.2" r="15.3" fill="#000"/>
<circle cx="721.9" cy="1238.3" r="15.3" fill="#000"/>
<circle cx="721.9" cy="1253.8" r="13.8" fill="#000"/>
<circle cx="732.5" cy="1235.3" r="15.3" fill="#000"/>
<circle cx="732.5" cy="1269.2" r="15.3" fill="#000"/>
<circle cx="732.5" cy="1253.8" r="13.8" fill="#000"/>
<path d="M714.5 1285.0H750.5" stroke="#000" stroke-width="4.8"/>
<circle cx="743.1" cy="1270.8" r="15.3" fill="#000"/>
<circle cx="743.1" cy="1233.3" r="15.3" fill="#000"/>
<circle cx="743.1" cy="1250.6" r="13.8" fill="#000"/>
<circle cx="753.8" cy="1232.7" r="15.3" fill="#000"/>
<circle cx="753.8" cy="1266.7" r="15.3" fill="#000"/>
<circle cx="753.8" cy="1251.2" r="13.8" fill="#000"/>
<circle cx="764.4" cy="1269.7" r="15.3" fill="#000"/>
<circle cx="764.4" cy="1264.2" r="13.8" fill="#000"/>
<path d="M746.4 1246.0H782.4" stroke="#000" stroke-width="4.8"/>
<circle cx="775.0" cy="1252.3" r="15.3" fill="#000"/>
<circle cx="785.6" cy="1252.2" r="15.3" fill="#000"/>
<circle cx="785.6" cy="1247.5" r="13.8" fill="#000"/>
<circle cx="796.2" cy="1237.5" r="15.3" fill="#000"/>
<circle cx="796.2" cy="1243.9" r="13.8" fill="#000"/>
<path d="M778.2 1263.1H814.2" stroke="#000" stroke-width="4.8"/>
<circle cx="806.9" cy="1253.1" r="15.3" fill="#000"/>
<circle cx="817.5" cy="1253.6" r="15.3" fill="#000"/>
<circle cx="828.1" cy="1266.5" r="15.3" fill="#000"/>
<path d="M810.1 1247.9H846.1" stroke="#000" stroke-width="4.8"/>
<circle cx="838.8" cy="1265.3" r="15.3" fill="#000"/>
<circle cx="849.4" cy="1274.6" r="15.3" fill="#000"/>
<circle cx="849.4" cy="1269.9" r="13.8" fill="#000"/>
<circle cx="860.0" cy="1263.6" r="15.3" fill="#000"/>
<circle cx="860.0" cy="1270.0" r="13.8" fill="#000"/>
<path d="M842.0 1289.2H878.0" stroke="#000" stroke-width="4.8"/>
<circle cx="870.6" cy="1280.0" r="15.3" fill="#000"/>
<circle cx="870.6" cy="1271.4" r="13.8" fill="#000"/>
<circle cx="881.2" cy="1264.0" r="15.3" fill="#000"/>
<circle cx="881.2" cy="1282.2" r="15.3" fill="#000"/>
<circle cx="881.2" cy="1274.6" r="13.8" fill="#000"/>
<circle cx="891.9" cy="1289.5" r="15.3" fill="#000"/>
<circle cx="891.9" cy="1282.1" r="13.8" fill="#000"/>
<path d="M873.9 1261.9H909.9" stroke="#000" stroke-width="4.8"/>
<circle cx="902.5" cy="1285.3" r="15.3" fill="#000"/>
<circle cx="930.0" cy="1180.0" r="15.0" fill="#000"/>
<circle cx="941.7" cy="1197.2" r="15.3" fill="#000"/>
<circle cx="941.7" cy="1191.7" r="13.8" fill="#000"/>
<path d="M923.7 1173.3H959.7" stroke="#000" stroke-width="4.8"/>
<circle cx="953.3" cy="1187.5" r="15.3" fill="#000"/>
<circle cx="953.3" cy="1196.7" r="13.8" fill="#000"/>
<circle cx="965.0" cy="1192.2" r="15.3" fill="#000"/>
<circle cx="965.0" cy="1185.0" r="13.8" fill="#000"/>
<circle cx="935.0" cy="1252.8" r="15.3" fill="#000"/>
<circle cx="945.9" cy="1266.3" r="15.3" fill="#000"/>
<path d="M927.9 1249.1H963.9" stroke="#000" stroke-width="4.8"/>
<circle cx="956.8" cy="1268.7" r="15.3" fill="#000"/>
<circle cx="967.6" cy="1273.8" r="15.3" fill="#000"/>
<circle cx="978.5" cy="1273.8" r="15.3" fill="#000"/>
<circle cx="989.4" cy="1271.4" r="15.3" fill="#000"/>
<circle cx="1000.3" cy="1235.3" r="15.3" fill="#000"/>
<circle cx="1000.3" cy="1255.8" r="15.3" fill="#000"/>
<circle cx="1000.3" cy="1247.0" r="13.8" fill="#000"/>
<circle cx="1011.2" cy="1255.1" r="15.3" fill="#000"/>
<circle cx="1011.2" cy="1238.3" r="15.3" fill="#000"/>
<circle cx="1011.2" cy="1245.2" r="13.8" fill="#000"/>
<path d="M993.2 1222.5H1029.2" stroke="#000" stroke-width="4.8"/>
<circle cx="1022.1" cy="1232.1" r="15.3" fill="#000"/>
<circle cx="1022.1" cy="1251.7" r="15.3" fill="#000"/>
<circle cx="1022.1" cy="1243.4" r="13.8" fill="#000"/>
<circle cx="1032.9" cy="1252.5" r="15.3" fill="#000"/>
<circle cx="1032.9" cy="1235.5" r="15.3" fill="#000"/>
<circle cx="1032.9" cy="1242.5" r="13.8" fill="#000"/>
<circle cx="1043.8" cy="1238.4" r="15.3" fill="#000"/>
<circle cx="1043.8" cy="1244.8" r="13.8" fill="#000"/>
<path d="M1025.8 1264.0H1061.8" stroke="#000" stroke-width="4.8"/>
<circle cx="1054.7" cy="1255.1" r="15.3" fill="#000"/>
<circle cx="1054.7" cy="1250.4" r="13.8" fill="#000"/>
<circle cx="1065.6" cy="1247.5" r="15.3" fill="#000"/>
<circle cx="1065.6" cy="1252.2" r="13.8" fill="#000"/>
<circle cx="1076.5" cy="1259.0" r="15.3" fill="#000"/>
<path d="M1058.5 1240.4H1094.5" stroke="#000" stroke-width="4.8"/>
<circle cx="1087.4" cy="1250.4" r="15.3" fill="#000"/>
<circle cx="1098.2" cy="1256.7" r="15.3" fill="#000"/>
<circle cx="1098.2" cy="1249.4" r="13.8" fill="#000"/>
<circle cx="1109.1" cy="1231.2" r="15.3" fill="#000"/>
<circle cx="1109.1" cy="1251.8" r="15.3" fill="#000"/>
<circle cx="1109.1" cy="1243.0" r="13.8" fill="#000"/>
<path d="M1091.1 1267.6H1127.1" stroke="#000" stroke-width="4.8"/>
<circle cx="1120.0" cy="1277.2" r="15.3" fill="#000"/>
<circle cx="1120.0" cy="1238.3" r="15.3" fill="#000"/>
<circle cx="1120.0" cy="1256.2" r="13.8" fill="#000"/>
<circle cx="1820.0" cy="1162.0" r="11.8" fill="#000"/>
<circle cx="1831.5" cy="1160.3" r="13.4" fill="#000"/>
<circle cx="1843.0" cy="1153.9" r="15.3" fill="#000"/>
<circle cx="1854.5" cy="1154.2" r="15.3" fill="#000"/>
<circle cx="1854.5" cy="1147.5" r="13.8" fill="#000"/>
<circle cx="1866.1" cy="1130.4" r="15.3" fill="#000"/>
<circle cx="1866.1" cy="1138.8" r="13.8" fill="#000"/>
<path d="M1848.1 1159.9H1884.1" stroke="#000" stroke-width="4.8"/>
<circle cx="1877.6" cy="1137.9" r="15.3" fill="#000"/>
<circle cx="1877.6" cy="1130.6" r="13.8" fill="#000"/>
<circle cx="1889.1" cy="1122.3" r="15.3" fill="#000"/>
<path d="M335.0 1183.0V1212.0M317.0 1183.0H353.0M317.0 1212.0H353.0" stroke="#000" stroke-width="4.8" fill="none"/><circle cx="335.0" cy="1197.5" r="15.6" fill="#000"/>
<path d="M356.2 1200.0V1226.0M338.2 1200.0H374.2M338.2 1226.0H374.2" stroke="#000" stroke-width="4.8" fill="none"/><circle cx="356.2" cy="1213.0" r="15.6" fill="#000"/>
<path d="M442.5 1196.5V1222.5M424.5 1196.5H460.5M424.5 1222.5H460.5" stroke="#000" stroke-width="4.8" fill="none"/><circle cx="442.5" cy="1209.5" r="15.6" fill="#000"/>
<path d="M420.0 1230.0V1254.0M402.0 1230.0H438.0M402.0 1254.0H438.0" stroke="#000" stroke-width="4.8" fill="none"/><circle cx="420.0" cy="1242.0" r="15.6" fill="#000"/>
<path d="M567.5 1226.2V1268.8M549.5 1226.2H585.5M549.5 1268.8H585.5" stroke="#000" stroke-width="4.8" fill="none"/><circle cx="567.5" cy="1247.5" r="15.6" fill="#000"/>
<path d="M815.0 1166.8V1194.2M797.0 1166.8H833.0M797.0 1194.2H833.0" stroke="#000" stroke-width="4.8" fill="none"/><circle cx="815.0" cy="1180.5" r="15.6" fill="#000"/>
<path d="M718.8 1188.8V1218.8M700.8 1188.8H736.8M700.8 1218.8H736.8" stroke="#000" stroke-width="4.8" fill="none"/><circle cx="718.8" cy="1203.8" r="15.6" fill="#000"/>
<path d="M793.8 1203.0V1232.0M775.8 1203.0H811.8M775.8 1232.0H811.8" stroke="#000" stroke-width="4.8" fill="none"/><circle cx="793.8" cy="1217.5" r="15.6" fill="#000"/>
<path d="M910.0 1210.8V1241.8M892.0 1210.8H928.0M892.0 1241.8H928.0" stroke="#000" stroke-width="4.8" fill="none"/><circle cx="910.0" cy="1226.2" r="15.6" fill="#000"/>
<circle cx="1116.2" cy="1230.0" r="15.6" fill="#000"/>
<circle cx="1105.0" cy="1247.5" r="15.6" fill="#000"/>
<circle cx="1095.0" cy="1262.5" r="15.6" fill="#000"/>
<path d="M1126.2 1263.8V1291.2M1108.2 1263.8H1144.2M1108.2 1291.2H1144.2" stroke="#000" stroke-width="4.8" fill="none"/><circle cx="1126.2" cy="1277.5" r="15.6" fill="#000"/>
<path d="M1162.5 1310.0V1342.5M1144.5 1310.0H1180.5M1144.5 1342.5H1180.5" stroke="#000" stroke-width="4.8" fill="none"/><circle cx="1162.5" cy="1326.2" r="15.6" fill="#000"/>
<path d="M1137.5 1352.5V1382.5M1119.5 1352.5H1155.5M1119.5 1382.5H1155.5" stroke="#000" stroke-width="4.8" fill="none"/><circle cx="1137.5" cy="1367.5" r="15.6" fill="#000"/>
<path d="M1413.8 1280.0V1311.0M1395.8 1280.0H1431.8M1395.8 1311.0H1431.8" stroke="#000" stroke-width="4.8" fill="none"/><circle cx="1413.8" cy="1295.5" r="15.6" fill="#000"/>
<path d="M1447.5 1102.2V1136.2M1429.5 1102.2H1465.5M1429.5 1136.2H1465.5" stroke="#000" stroke-width="4.8" fill="none"/><circle cx="1447.5" cy="1119.2" r="15.6" fill="#000"/>
<path d="M1456.2 1145.0V1175.0M1438.2 1145.0H1474.2M1438.2 1175.0H1474.2" stroke="#000" stroke-width="4.8" fill="none"/><circle cx="1456.2" cy="1160.0" r="15.6" fill="#000"/>
<path d="M1468.8 1158.8V1188.8M1450.8 1158.8H1486.8M1450.8 1188.8H1486.8" stroke="#000" stroke-width="4.8" fill="none"/><circle cx="1468.8" cy="1173.8" r="15.6" fill="#000"/>
<path d="M1725.0 948.8V989.8M1707.0 948.8H1743.0M1707.0 989.8H1743.0" stroke="#000" stroke-width="4.8" fill="none"/><circle cx="1725.0" cy="969.2" r="15.6" fill="#000"/>
<path d="M1507.5 1031.2V1071.2M1489.5 1031.2H1525.5M1489.5 1071.2H1525.5" stroke="#000" stroke-width="4.8" fill="none"/><circle cx="1507.5" cy="1051.2" r="15.6" fill="#000"/>
<path d="M1630.0 1053.8V1086.2M1612.0 1053.8H1648.0M1612.0 1086.2H1648.0" stroke="#000" stroke-width="4.8" fill="none"/><circle cx="1630.0" cy="1070.0" r="15.6" fill="#000"/>
<path d="M1447.5 1101.8V1135.8M1429.5 1101.8H1465.5M1429.5 1135.8H1465.5" stroke="#000" stroke-width="4.8" fill="none"/><circle cx="1447.5" cy="1118.8" r="15.6" fill="#000"/>
<path d="M1457.5 1145.0V1175.0M1439.5 1145.0H1475.5M1439.5 1175.0H1475.5" stroke="#000" stroke-width="4.8" fill="none"/><circle cx="1457.5" cy="1160.0" r="15.6" fill="#000"/>
<path d="M1470.0 1158.8V1188.8M1452.0 1158.8H1488.0M1452.0 1188.8H1488.0" stroke="#000" stroke-width="4.8" fill="none"/><circle cx="1470.0" cy="1173.8" r="15.6" fill="#000"/>
<path d="M1500.0 1105.0V1137.5M1482.0 1105.0H1518.0M1482.0 1137.5H1518.0" stroke="#000" stroke-width="4.8" fill="none"/><circle cx="1500.0" cy="1121.2" r="15.6" fill="#000"/>
<path d="M1520.0 1140.0V1172.5M1502.0 1140.0H1538.0M1502.0 1172.5H1538.0" stroke="#000" stroke-width="4.8" fill="none"/><circle cx="1520.0" cy="1156.2" r="15.6" fill="#000"/>
<path d="M1532.5 1156.2V1188.8M1514.5 1156.2H1550.5M1514.5 1188.8H1550.5" stroke="#000" stroke-width="4.8" fill="none"/><circle cx="1532.5" cy="1172.5" r="15.6" fill="#000"/>
<path d="M1542.5 1120.0V1150.0M1524.5 1120.0H1560.5M1524.5 1150.0H1560.5" stroke="#000" stroke-width="4.8" fill="none"/><circle cx="1542.5" cy="1135.0" r="15.6" fill="#000"/>
<path d="M1575.0 1095.5V1129.5M1557.0 1095.5H1593.0M1557.0 1129.5H1593.0" stroke="#000" stroke-width="4.8" fill="none"/><circle cx="1575.0" cy="1112.5" r="15.6" fill="#000"/>
<path d="M1585.0 1138.2V1164.2M1567.0 1138.2H1603.0M1567.0 1164.2H1603.0" stroke="#000" stroke-width="4.8" fill="none"/><circle cx="1585.0" cy="1151.2" r="15.6" fill="#000"/>
<path d="M1617.5 1138.2V1164.2M1599.5 1138.2H1635.5M1599.5 1164.2H1635.5" stroke="#000" stroke-width="4.8" fill="none"/><circle cx="1617.5" cy="1151.2" r="15.6" fill="#000"/>
<path d="M1565.0 1175.8V1206.8M1547.0 1175.8H1583.0M1547.0 1206.8H1583.0" stroke="#000" stroke-width="4.8" fill="none"/><circle cx="1565.0" cy="1191.2" r="15.6" fill="#000"/>
<path d="M1606.2 1175.5V1200.5M1588.2 1175.5H1624.2M1588.2 1200.5H1624.2" stroke="#000" stroke-width="4.8" fill="none"/><circle cx="1606.2" cy="1188.0" r="15.6" fill="#000"/>
<path d="M1681.2 1097.5V1145.0M1663.2 1097.5H1699.2M1663.2 1145.0H1699.2" stroke="#000" stroke-width="4.8" fill="none"/><circle cx="1681.2" cy="1121.2" r="15.6" fill="#000"/>
<path d="M1670.0 1156.2V1183.8M1652.0 1156.2H1688.0M1652.0 1183.8H1688.0" stroke="#000" stroke-width="4.8" fill="none"/><circle cx="1670.0" cy="1170.0" r="15.6" fill="#000"/>
<path d="M1695.0 1158.8V1186.2M1677.0 1158.8H1713.0M1677.0 1186.2H1713.0" stroke="#000" stroke-width="4.8" fill="none"/><circle cx="1695.0" cy="1172.5" r="15.6" fill="#000"/>
<circle cx="1655.0" cy="1190.0" r="15.6" fill="#000"/>
<path d="M1645.0 1188.8V1218.8M1627.0 1188.8H1663.0M1627.0 1218.8H1663.0" stroke="#000" stroke-width="4.8" fill="none"/><circle cx="1645.0" cy="1203.8" r="15.6" fill="#000"/>
<path d="M1745.0 1082.5V1115.0M1727.0 1082.5H1763.0M1727.0 1115.0H1763.0" stroke="#000" stroke-width="4.8" fill="none"/><circle cx="1745.0" cy="1098.8" r="15.6" fill="#000"/>
<path d="M1735.0 1111.8V1145.8M1717.0 1111.8H1753.0M1717.0 1145.8H1753.0" stroke="#000" stroke-width="4.8" fill="none"/><circle cx="1735.0" cy="1128.8" r="15.6" fill="#000"/>
<path d="M1780.0 1110.0V1150.0M1762.0 1110.0H1798.0M1762.0 1150.0H1798.0" stroke="#000" stroke-width="4.8" fill="none"/><circle cx="1780.0" cy="1130.0" r="15.6" fill="#000"/>
<path d="M1790.0 1125.0V1155.0M1772.0 1125.0H1808.0M1772.0 1155.0H1808.0" stroke="#000" stroke-width="4.8" fill="none"/><circle cx="1790.0" cy="1140.0" r="15.6" fill="#000"/>
<path d="M1762.5 1160.0V1207.5M1744.5 1160.0H1780.5M1744.5 1207.5H1780.5" stroke="#000" stroke-width="4.8" fill="none"/><circle cx="1762.5" cy="1183.8" r="15.6" fill="#000"/>
<circle cx="1798.8" cy="1195.0" r="15.6" fill="#000"/>
<circle cx="420.0" cy="1151.8" r="13.4" fill="#fff" stroke="#000" stroke-width="4.9"/>
<path d="M435.6 1151.2V1179.2M417.6 1151.2H453.6M417.6 1179.2H453.6" stroke="#000" stroke-width="4.8" fill="none"/><circle cx="435.6" cy="1165.2" r="13.4" fill="#fff" stroke="#000" stroke-width="4.9"/>
<circle cx="451.1" cy="1150.6" r="13.4" fill="#fff" stroke="#000" stroke-width="4.9"/>
<path d="M466.7 1150.5V1178.5M448.7 1150.5H484.7M448.7 1178.5H484.7" stroke="#000" stroke-width="4.8" fill="none"/><circle cx="466.7" cy="1164.5" r="13.4" fill="#fff" stroke="#000" stroke-width="4.9"/>
<circle cx="482.2" cy="1150.5" r="13.4" fill="#fff" stroke="#000" stroke-width="4.9"/>
<path d="M497.8 1150.2V1178.2M479.8 1150.2H515.8M479.8 1178.2H515.8" stroke="#000" stroke-width="4.8" fill="none"/><circle cx="497.8" cy="1164.2" r="13.4" fill="#fff" stroke="#000" stroke-width="4.9"/>
<circle cx="513.3" cy="1144.0" r="13.4" fill="#fff" stroke="#000" stroke-width="4.9"/>
<path d="M528.9 1155.8V1183.8M510.9 1155.8H546.9M510.9 1183.8H546.9" stroke="#000" stroke-width="4.8" fill="none"/><circle cx="528.9" cy="1169.8" r="13.4" fill="#fff" stroke="#000" stroke-width="4.9"/>
<circle cx="544.4" cy="1152.1" r="13.4" fill="#fff" stroke="#000" stroke-width="4.9"/>
<path d="M560.0 1170.2V1198.2M542.0 1170.2H578.0M542.0 1198.2H578.0" stroke="#000" stroke-width="4.8" fill="none"/><circle cx="560.0" cy="1184.2" r="13.4" fill="#fff" stroke="#000" stroke-width="4.9"/>
<circle cx="592.5" cy="1149.2" r="13.4" fill="#fff" stroke="#000" stroke-width="4.9"/>
<path d="M608.4 1149.2V1177.2M590.4 1149.2H626.4M590.4 1177.2H626.4" stroke="#000" stroke-width="4.8" fill="none"/><circle cx="608.4" cy="1163.2" r="13.4" fill="#fff" stroke="#000" stroke-width="4.9"/>
<circle cx="624.4" cy="1149.2" r="13.4" fill="#fff" stroke="#000" stroke-width="4.9"/>
<path d="M640.3 1149.2V1177.2M622.3 1149.2H658.3M622.3 1177.2H658.3" stroke="#000" stroke-width="4.8" fill="none"/><circle cx="640.3" cy="1163.2" r="13.4" fill="#fff" stroke="#000" stroke-width="4.9"/>
<circle cx="656.2" cy="1149.2" r="13.4" fill="#fff" stroke="#000" stroke-width="4.9"/>
<path d="M672.1 1147.7V1175.7M654.1 1147.7H690.1M654.1 1175.7H690.1" stroke="#000" stroke-width="4.8" fill="none"/><circle cx="672.1" cy="1161.7" r="13.4" fill="#fff" stroke="#000" stroke-width="4.9"/>
<circle cx="688.1" cy="1145.5" r="13.4" fill="#fff" stroke="#000" stroke-width="4.9"/>
<path d="M704.0 1143.0V1171.0M686.0 1143.0H722.0M686.0 1171.0H722.0" stroke="#000" stroke-width="4.8" fill="none"/><circle cx="704.0" cy="1157.0" r="13.4" fill="#fff" stroke="#000" stroke-width="4.9"/>
<path d="M335.0 1094.5V1140.5M317.0 1094.5H353.0M317.0 1140.5H353.0" stroke="#000" stroke-width="4.8" fill="none"/><circle cx="335.0" cy="1117.5" r="13.4" fill="#fff" stroke="#000" stroke-width="4.9"/>
<path d="M356.2 1136.2V1163.8M338.2 1136.2H374.2M338.2 1163.8H374.2" stroke="#000" stroke-width="4.8" fill="none"/><circle cx="356.2" cy="1150.0" r="13.4" fill="#fff" stroke="#000" stroke-width="4.9"/>
<path d="M301.2 1157.5V1185.0M283.2 1157.5H319.2M283.2 1185.0H319.2" stroke="#000" stroke-width="4.8" fill="none"/><circle cx="301.2" cy="1171.2" r="13.4" fill="#fff" stroke="#000" stroke-width="4.9"/>
<circle cx="323.8" cy="1166.2" r="13.4" fill="#fff" stroke="#000" stroke-width="4.9"/>
<circle cx="345.0" cy="1171.2" r="13.4" fill="#fff" stroke="#000" stroke-width="4.9"/>
<path d="M442.5 1106.2V1138.8M424.5 1106.2H460.5M424.5 1138.8H460.5" stroke="#000" stroke-width="4.8" fill="none"/><circle cx="442.5" cy="1122.5" r="13.4" fill="#fff" stroke="#000" stroke-width="4.9"/>
<path d="M462.5 1173.5V1197.5M444.5 1173.5H480.5M444.5 1197.5H480.5" stroke="#000" stroke-width="4.8" fill="none"/><circle cx="462.5" cy="1185.5" r="13.4" fill="#fff" stroke="#000" stroke-width="4.9"/>
<path d="M527.5 1173.5V1197.5M509.5 1173.5H545.5M509.5 1197.5H545.5" stroke="#000" stroke-width="4.8" fill="none"/><circle cx="527.5" cy="1185.5" r="13.4" fill="#fff" stroke="#000" stroke-width="4.9"/>
<path d="M547.5 1112.0V1133.0M529.5 1112.0H565.5M529.5 1133.0H565.5" stroke="#000" stroke-width="4.8" fill="none"/><circle cx="547.5" cy="1122.5" r="13.4" fill="#fff" stroke="#000" stroke-width="4.9"/>
<path d="M570.0 1098.0V1128.0M552.0 1098.0H588.0M552.0 1128.0H588.0" stroke="#000" stroke-width="4.8" fill="none"/><circle cx="570.0" cy="1113.0" r="13.4" fill="#fff" stroke="#000" stroke-width="4.9"/>
<path d="M602.5 1085.0V1121.0M584.5 1085.0H620.5M584.5 1121.0H620.5" stroke="#000" stroke-width="4.8" fill="none"/><circle cx="602.5" cy="1103.0" r="13.4" fill="#fff" stroke="#000" stroke-width="4.9"/>
<path d="M392.5 1226.0V1255.0M374.5 1226.0H410.5M374.5 1255.0H410.5" stroke="#000" stroke-width="4.8" fill="none"/><circle cx="392.5" cy="1240.5" r="13.4" fill="#fff" stroke="#000" stroke-width="4.9"/>
<circle cx="761.2" cy="1151.1" r="13.4" fill="#fff" stroke="#000" stroke-width="4.9"/>
<path d="M775.6 1150.0V1178.0M757.6 1150.0H793.6M757.6 1178.0H793.6" stroke="#000" stroke-width="4.8" fill="none"/><circle cx="775.6" cy="1164.0" r="13.4" fill="#fff" stroke="#000" stroke-width="4.9"/>
<circle cx="789.9" cy="1144.1" r="13.4" fill="#fff" stroke="#000" stroke-width="4.9"/>
<path d="M804.2 1128.9V1156.9M786.2 1128.9H822.2M786.2 1156.9H822.2" stroke="#000" stroke-width="4.8" fill="none"/><circle cx="804.2" cy="1142.9" r="13.4" fill="#fff" stroke="#000" stroke-width="4.9"/>
<circle cx="818.5" cy="1132.2" r="13.4" fill="#fff" stroke="#000" stroke-width="4.9"/>
<path d="M832.8 1139.4V1167.4M814.8 1139.4H850.8M814.8 1167.4H850.8" stroke="#000" stroke-width="4.8" fill="none"/><circle cx="832.8" cy="1153.4" r="13.4" fill="#fff" stroke="#000" stroke-width="4.9"/>
<circle cx="847.1" cy="1149.0" r="13.4" fill="#fff" stroke="#000" stroke-width="4.9"/>
<path d="M861.4 1150.1V1178.1M843.4 1150.1H879.4M843.4 1178.1H879.4" stroke="#000" stroke-width="4.8" fill="none"/><circle cx="861.4" cy="1164.1" r="13.4" fill="#fff" stroke="#000" stroke-width="4.9"/>
<circle cx="875.7" cy="1151.0" r="13.4" fill="#fff" stroke="#000" stroke-width="4.9"/>
<path d="M890.0 1155.5V1183.5M872.0 1155.5H908.0M872.0 1183.5H908.0" stroke="#000" stroke-width="4.8" fill="none"/><circle cx="890.0" cy="1169.5" r="13.4" fill="#fff" stroke="#000" stroke-width="4.9"/>
<circle cx="932.5" cy="1150.5" r="13.4" fill="#fff" stroke="#000" stroke-width="4.9"/>
<path d="M948.1 1148.5V1176.5M930.1 1148.5H966.1M930.1 1176.5H966.1" stroke="#000" stroke-width="4.8" fill="none"/><circle cx="948.1" cy="1162.5" r="13.4" fill="#fff" stroke="#000" stroke-width="4.9"/>
<circle cx="963.8" cy="1146.4" r="13.4" fill="#fff" stroke="#000" stroke-width="4.9"/>
<path d="M979.4 1143.4V1171.4M961.4 1143.4H997.4M961.4 1171.4H997.4" stroke="#000" stroke-width="4.8" fill="none"/><circle cx="979.4" cy="1157.4" r="13.4" fill="#fff" stroke="#000" stroke-width="4.9"/>
<circle cx="995.0" cy="1136.8" r="13.4" fill="#fff" stroke="#000" stroke-width="4.9"/>
<path d="M1010.6 1139.1V1167.1M992.6 1139.1H1028.6M992.6 1167.1H1028.6" stroke="#000" stroke-width="4.8" fill="none"/><circle cx="1010.6" cy="1153.1" r="13.4" fill="#fff" stroke="#000" stroke-width="4.9"/>
<circle cx="1026.2" cy="1139.3" r="13.4" fill="#fff" stroke="#000" stroke-width="4.9"/>
<path d="M1041.9 1136.4V1164.4M1023.9 1136.4H1059.9M1023.9 1164.4H1059.9" stroke="#000" stroke-width="4.8" fill="none"/><circle cx="1041.9" cy="1150.4" r="13.4" fill="#fff" stroke="#000" stroke-width="4.9"/>
<circle cx="1057.5" cy="1133.5" r="13.4" fill="#fff" stroke="#000" stroke-width="4.9"/>
<path d="M1073.1 1136.0V1164.0M1055.1 1136.0H1091.1M1055.1 1164.0H1091.1" stroke="#000" stroke-width="4.8" fill="none"/><circle cx="1073.1" cy="1150.0" r="13.4" fill="#fff" stroke="#000" stroke-width="4.9"/>
<circle cx="1088.8" cy="1129.6" r="13.4" fill="#fff" stroke="#000" stroke-width="4.9"/>
<path d="M1104.4 1137.9V1165.9M1086.4 1137.9H1122.4M1086.4 1165.9H1122.4" stroke="#000" stroke-width="4.8" fill="none"/><circle cx="1104.4" cy="1151.9" r="13.4" fill="#fff" stroke="#000" stroke-width="4.9"/>
<circle cx="1120.0" cy="1146.8" r="13.4" fill="#fff" stroke="#000" stroke-width="4.9"/>
<path d="M720.0 1084.8V1133.8M702.0 1084.8H738.0M702.0 1133.8H738.0" stroke="#000" stroke-width="4.8" fill="none"/><circle cx="720.0" cy="1109.2" r="13.4" fill="#fff" stroke="#000" stroke-width="4.9"/>
<path d="M711.2 1112.5V1150.0M693.2 1112.5H729.2M693.2 1150.0H729.2" stroke="#000" stroke-width="4.8" fill="none"/><circle cx="711.2" cy="1131.2" r="13.4" fill="#fff" stroke="#000" stroke-width="4.9"/>
<path d="M702.5 1137.5V1162.5M684.5 1137.5H720.5M684.5 1162.5H720.5" stroke="#000" stroke-width="4.8" fill="none"/><circle cx="702.5" cy="1150.0" r="13.4" fill="#fff" stroke="#000" stroke-width="4.9"/>
<path d="M790.0 1115.0V1150.0M772.0 1115.0H808.0M772.0 1150.0H808.0" stroke="#000" stroke-width="4.8" fill="none"/><circle cx="790.0" cy="1132.5" r="13.4" fill="#fff" stroke="#000" stroke-width="4.9"/>
<path d="M810.0 1102.5V1152.5M792.0 1102.5H828.0M792.0 1152.5H828.0" stroke="#000" stroke-width="4.8" fill="none"/><circle cx="810.0" cy="1127.5" r="13.4" fill="#fff" stroke="#000" stroke-width="4.9"/>
<path d="M902.5 1157.5V1205.0M884.5 1157.5H920.5M884.5 1205.0H920.5" stroke="#000" stroke-width="4.8" fill="none"/><circle cx="902.5" cy="1181.2" r="13.4" fill="#fff" stroke="#000" stroke-width="4.9"/>
<circle cx="942.5" cy="1185.0" r="13.4" fill="#fff" stroke="#000" stroke-width="4.9"/>
<path d="M922.5 1030.0V1076.0M904.5 1030.0H940.5M904.5 1076.0H940.5" stroke="#000" stroke-width="4.8" fill="none"/><circle cx="922.5" cy="1053.0" r="13.4" fill="#fff" stroke="#000" stroke-width="4.9"/>
<path d="M1030.0 1071.8V1115.8M1012.0 1071.8H1048.0M1012.0 1115.8H1048.0" stroke="#000" stroke-width="4.8" fill="none"/><circle cx="1030.0" cy="1093.8" r="13.4" fill="#fff" stroke="#000" stroke-width="4.9"/>
<path d="M1103.8 1108.8V1133.8M1085.8 1108.8H1121.8M1085.8 1133.8H1121.8" stroke="#000" stroke-width="4.8" fill="none"/><circle cx="1103.8" cy="1121.2" r="13.4" fill="#fff" stroke="#000" stroke-width="4.9"/>
<path d="M1115.0 1137.5V1172.5M1097.0 1137.5H1133.0M1097.0 1172.5H1133.0" stroke="#000" stroke-width="4.8" fill="none"/><circle cx="1115.0" cy="1155.0" r="13.4" fill="#fff" stroke="#000" stroke-width="4.9"/>
<path d="M1178.8 1288.8V1331.2M1160.8 1288.8H1196.8M1160.8 1331.2H1196.8" stroke="#000" stroke-width="4.8" fill="none"/><circle cx="1178.8" cy="1310.0" r="13.4" fill="#fff" stroke="#000" stroke-width="4.9"/>
<path d="M1146.2 1370.0V1400.0M1128.2 1370.0H1164.2M1128.2 1400.0H1164.2" stroke="#000" stroke-width="4.8" fill="none"/><circle cx="1146.2" cy="1385.0" r="13.4" fill="#fff" stroke="#000" stroke-width="4.9"/>
<path d="M1447.5 1016.2V1106.2M1429.5 1016.2H1465.5M1429.5 1106.2H1465.5" stroke="#000" stroke-width="4.8" fill="none"/><circle cx="1447.5" cy="1061.2" r="13.4" fill="#fff" stroke="#000" stroke-width="4.9"/>
<path d="M1457.5 797.0V947.0M1439.5 797.0H1475.5M1439.5 947.0H1475.5" stroke="#000" stroke-width="4.8" fill="none"/><circle cx="1457.5" cy="872.0" r="13.4" fill="#fff" stroke="#000" stroke-width="4.9"/>
<path d="M1511.2 806.2V911.2M1493.2 806.2H1529.2M1493.2 911.2H1529.2" stroke="#000" stroke-width="4.8" fill="none"/><circle cx="1511.2" cy="858.8" r="13.4" fill="#fff" stroke="#000" stroke-width="4.9"/>
<path d="M1725.0 838.0V897.0M1707.0 838.0H1743.0M1707.0 897.0H1743.0" stroke="#000" stroke-width="4.8" fill="none"/><circle cx="1725.0" cy="867.5" r="13.4" fill="#fff" stroke="#000" stroke-width="4.9"/>
<path d="M1630.0 901.5V1002.5M1612.0 901.5H1648.0M1612.0 1002.5H1648.0" stroke="#000" stroke-width="4.8" fill="none"/><circle cx="1630.0" cy="952.0" r="13.4" fill="#fff" stroke="#000" stroke-width="4.9"/>
<path d="M1575.0 961.2V1033.8M1557.0 961.2H1593.0M1557.0 1033.8H1593.0" stroke="#000" stroke-width="4.8" fill="none"/><circle cx="1575.0" cy="997.5" r="13.4" fill="#fff" stroke="#000" stroke-width="4.9"/>
<path d="M1586.2 1011.8V1070.8M1568.2 1011.8H1604.2M1568.2 1070.8H1604.2" stroke="#000" stroke-width="4.8" fill="none"/><circle cx="1586.2" cy="1041.2" r="13.4" fill="#fff" stroke="#000" stroke-width="4.9"/>
<path d="M1499.5 978.5V1052.5M1481.5 978.5H1517.5M1481.5 1052.5H1517.5" stroke="#000" stroke-width="4.8" fill="none"/><circle cx="1499.5" cy="1015.5" r="13.4" fill="#fff" stroke="#000" stroke-width="4.9"/>
<path d="M1532.5 1017.0V1068.0M1514.5 1017.0H1550.5M1514.5 1068.0H1550.5" stroke="#000" stroke-width="4.8" fill="none"/><circle cx="1532.5" cy="1042.5" r="13.4" fill="#fff" stroke="#000" stroke-width="4.9"/>
<path d="M1521.2 1046.2V1101.2M1503.2 1046.2H1539.2M1503.2 1101.2H1539.2" stroke="#000" stroke-width="4.8" fill="none"/><circle cx="1521.2" cy="1073.8" r="13.4" fill="#fff" stroke="#000" stroke-width="4.9"/>
<path d="M1447.5 1018.8V1103.8M1429.5 1018.8H1465.5M1429.5 1103.8H1465.5" stroke="#000" stroke-width="4.8" fill="none"/><circle cx="1447.5" cy="1061.2" r="13.4" fill="#fff" stroke="#000" stroke-width="4.9"/>
<path d="M1735.0 991.5V1067.5M1717.0 991.5H1753.0M1717.0 1067.5H1753.0" stroke="#000" stroke-width="4.8" fill="none"/><circle cx="1735.0" cy="1029.5" r="13.4" fill="#fff" stroke="#000" stroke-width="4.9"/>
<path d="M1693.8 1044.5V1120.5M1675.8 1044.5H1711.8M1675.8 1120.5H1711.8" stroke="#000" stroke-width="4.8" fill="none"/><circle cx="1693.8" cy="1082.5" r="13.4" fill="#fff" stroke="#000" stroke-width="4.9"/>
<path d="M1562.5 1060.5V1110.5M1544.5 1060.5H1580.5M1544.5 1110.5H1580.5" stroke="#000" stroke-width="4.8" fill="none"/><circle cx="1562.5" cy="1085.5" r="13.4" fill="#fff" stroke="#000" stroke-width="4.9"/>
<circle cx="1585.0" cy="1083.0" r="13.4" fill="#fff" stroke="#000" stroke-width="4.9"/>
<path d="M1606.2 1059.2V1121.8M1588.2 1059.2H1624.2M1588.2 1121.8H1624.2" stroke="#000" stroke-width="4.8" fill="none"/><circle cx="1606.2" cy="1090.5" r="13.4" fill="#fff" stroke="#000" stroke-width="4.9"/>
<path d="M1650.0 1053.8V1098.8M1632.0 1053.8H1668.0M1632.0 1098.8H1668.0" stroke="#000" stroke-width="4.8" fill="none"/><circle cx="1650.0" cy="1076.2" r="13.4" fill="#fff" stroke="#000" stroke-width="4.9"/>
<path d="M1660.0 1090.0V1125.0M1642.0 1090.0H1678.0M1642.0 1125.0H1678.0" stroke="#000" stroke-width="4.8" fill="none"/><circle cx="1660.0" cy="1107.5" r="13.4" fill="#fff" stroke="#000" stroke-width="4.9"/>
<path d="M1617.5 1189.5V1254.5M1599.5 1189.5H1635.5M1599.5 1254.5H1635.5" stroke="#000" stroke-width="4.8" fill="none"/><circle cx="1617.5" cy="1222.0" r="13.4" fill="#fff" stroke="#000" stroke-width="4.9"/>
<path d="M1864.3 1053.2V1093.5M1846.3 1053.2H1882.3M1846.3 1093.5H1882.3" stroke="#000" stroke-width="4.8" fill="none"/><circle cx="1864.3" cy="1073.3" r="13.4" fill="#fff" stroke="#000" stroke-width="4.9"/>
<circle cx="1874.2" cy="1123.7" r="13.4" fill="#fff" stroke="#000" stroke-width="4.9"/>
<path d="M1842.6 1180.0V1213.6M1824.6 1180.0H1860.6M1824.6 1213.6H1860.6" stroke="#000" stroke-width="4.8" fill="none"/><circle cx="1842.6" cy="1196.8" r="13.4" fill="#fff" stroke="#000" stroke-width="4.9"/>
<path d="M1897.5 1185.4V1239.9M1879.5 1185.4H1915.5M1879.5 1239.9H1915.5" stroke="#000" stroke-width="4.8" fill="none"/><circle cx="1897.5" cy="1212.6" r="13.4" fill="#fff" stroke="#000" stroke-width="4.9"/>
<path d="M1905.4 1272.5V1312.8M1887.4 1272.5H1923.4M1887.4 1312.8H1923.4" stroke="#000" stroke-width="4.8" fill="none"/><circle cx="1905.4" cy="1292.6" r="13.4" fill="#fff" stroke="#000" stroke-width="4.9"/>
<path d="M1779.4 999.3V1052.6M1761.4 999.3H1797.4M1761.4 1052.6H1797.4" stroke="#000" stroke-width="4.8" fill="none"/><circle cx="1779.4" cy="1025.9" r="13.4" fill="#fff" stroke="#000" stroke-width="4.9"/>
<path d="M1789.3 1026.5V1081.8M1771.3 1026.5H1807.3M1771.3 1081.8H1807.3" stroke="#000" stroke-width="4.8" fill="none"/><circle cx="1789.3" cy="1054.2" r="13.4" fill="#fff" stroke="#000" stroke-width="4.9"/>
<circle cx="1769.5" cy="1056.6" r="13.4" fill="#fff" stroke="#000" stroke-width="4.9"/>
<path d="M1799.1 1081.8V1129.3M1781.1 1081.8H1817.1M1781.1 1129.3H1817.1" stroke="#000" stroke-width="4.8" fill="none"/><circle cx="1799.1" cy="1105.5" r="13.4" fill="#fff" stroke="#000" stroke-width="4.9"/>
<circle cx="1755.7" cy="1137.6" r="13.4" fill="#fff" stroke="#000" stroke-width="4.9"/>
</g>
<g id="pC">
<circle cx="290.0" cy="1669.0" r="15.3" fill="#000"/>
<circle cx="290.0" cy="1706.7" r="15.3" fill="#000"/>
<circle cx="290.0" cy="1689.4" r="13.8" fill="#000"/>
<circle cx="301.2" cy="1713.5" r="15.3" fill="#000"/>
<circle cx="301.2" cy="1672.0" r="15.3" fill="#000"/>
<circle cx="301.2" cy="1691.2" r="13.8" fill="#000"/>
<path d="M283.2 1656.2H319.2" stroke="#000" stroke-width="4.8"/>
<circle cx="312.5" cy="1669.0" r="15.3" fill="#000"/>
<circle cx="312.5" cy="1711.7" r="15.3" fill="#000"/>
<circle cx="312.5" cy="1691.9" r="13.8" fill="#000"/>
<circle cx="323.8" cy="1713.5" r="15.3" fill="#000"/>
<circle cx="323.8" cy="1672.0" r="15.3" fill="#000"/>
<circle cx="323.8" cy="1691.2" r="13.8" fill="#000"/>
<circle cx="335.0" cy="1669.0" r="15.3" fill="#000"/>
<circle cx="335.0" cy="1706.7" r="15.3" fill="#000"/>
<circle cx="335.0" cy="1689.4" r="13.8" fill="#000"/>
<path d="M317.0 1722.5H353.0" stroke="#000" stroke-width="4.8"/>
<circle cx="346.2" cy="1714.2" r="15.3" fill="#000"/>
<circle cx="346.2" cy="1675.4" r="15.3" fill="#000"/>
<circle cx="346.2" cy="1693.3" r="13.8" fill="#000"/>
<circle cx="357.5" cy="1674.8" r="15.3" fill="#000"/>
<circle cx="357.5" cy="1727.7" r="15.3" fill="#000"/>
<circle cx="357.5" cy="1702.8" r="13.8" fill="#000"/>
<circle cx="368.8" cy="1734.7" r="15.3" fill="#000"/>
<circle cx="368.8" cy="1713.3" r="15.3" fill="#000"/>
<circle cx="368.8" cy="1722.5" r="13.8" fill="#000"/>
<path d="M350.8 1697.5H386.8" stroke="#000" stroke-width="4.8"/>
<circle cx="380.0" cy="1715.0" r="15.0" fill="#000"/>
<circle cx="410.0" cy="1682.8" r="15.3" fill="#000"/>
<circle cx="420.5" cy="1702.3" r="15.3" fill="#000"/>
<circle cx="420.5" cy="1693.6" r="13.8" fill="#000"/>
<path d="M402.5 1672.1H438.5" stroke="#000" stroke-width="4.8"/>
<circle cx="431.0" cy="1681.9" r="15.3" fill="#000"/>
<circle cx="431.0" cy="1689.9" r="13.8" fill="#000"/>
<circle cx="441.6" cy="1692.5" r="15.3" fill="#000"/>
<circle cx="441.6" cy="1684.2" r="13.8" fill="#000"/>
<circle cx="452.1" cy="1671.0" r="15.3" fill="#000"/>
<circle cx="452.1" cy="1688.8" r="15.3" fill="#000"/>
<circle cx="452.1" cy="1681.4" r="13.8" fill="#000"/>
<path d="M434.1 1704.6H470.1" stroke="#000" stroke-width="4.8"/>
<circle cx="462.6" cy="1702.3" r="15.3" fill="#000"/>
<circle cx="462.6" cy="1677.5" r="15.3" fill="#000"/>
<circle cx="462.6" cy="1688.4" r="13.8" fill="#000"/>
<circle cx="473.1" cy="1673.9" r="15.3" fill="#000"/>
<circle cx="473.1" cy="1701.7" r="15.3" fill="#000"/>
<circle cx="473.1" cy="1689.3" r="13.8" fill="#000"/>
<circle cx="483.6" cy="1704.7" r="15.3" fill="#000"/>
<circle cx="483.6" cy="1675.8" r="15.3" fill="#000"/>
<circle cx="483.6" cy="1688.8" r="13.8" fill="#000"/>
<path d="M465.6 1660.0H501.6" stroke="#000" stroke-width="4.8"/>
<circle cx="494.1" cy="1672.8" r="15.3" fill="#000"/>
<circle cx="494.1" cy="1701.7" r="15.3" fill="#000"/>
<circle cx="494.1" cy="1688.8" r="13.8" fill="#000"/>
<circle cx="504.7" cy="1704.7" r="15.3" fill="#000"/>
<circle cx="504.7" cy="1674.3" r="15.3" fill="#000"/>
<circle cx="504.7" cy="1688.0" r="13.8" fill="#000"/>
<circle cx="515.2" cy="1669.2" r="15.3" fill="#000"/>
<circle cx="515.2" cy="1701.7" r="15.3" fill="#000"/>
<circle cx="515.2" cy="1686.9" r="13.8" fill="#000"/>
<path d="M497.2 1717.5H533.2" stroke="#000" stroke-width="4.8"/>
<circle cx="525.7" cy="1704.7" r="15.3" fill="#000"/>
<circle cx="525.7" cy="1678.3" r="15.3" fill="#000"/>
<circle cx="525.7" cy="1690.0" r="13.8" fill="#000"/>
<circle cx="536.2" cy="1679.0" r="15.3" fill="#000"/>
<circle cx="536.2" cy="1711.7" r="15.3" fill="#000"/>
<circle cx="536.2" cy="1696.8" r="13.8" fill="#000"/>
<circle cx="546.7" cy="1726.4" r="15.3" fill="#000"/>
<circle cx="546.7" cy="1678.2" r="15.3" fill="#000"/>
<circle cx="546.7" cy="1700.8" r="13.8" fill="#000"/>
<path d="M528.7 1662.4H564.7" stroke="#000" stroke-width="4.8"/>
<circle cx="557.3" cy="1663.7" r="15.3" fill="#000"/>
<circle cx="557.3" cy="1726.7" r="15.3" fill="#000"/>
<circle cx="557.3" cy="1696.7" r="13.8" fill="#000"/>
<circle cx="567.8" cy="1729.7" r="15.3" fill="#000"/>
<circle cx="567.8" cy="1659.0" r="15.3" fill="#000"/>
<circle cx="567.8" cy="1692.9" r="13.8" fill="#000"/>
<circle cx="578.3" cy="1662.2" r="15.3" fill="#000"/>
<circle cx="578.3" cy="1726.7" r="15.3" fill="#000"/>
<circle cx="578.3" cy="1696.0" r="13.8" fill="#000"/>
<path d="M560.3 1742.5H596.3" stroke="#000" stroke-width="4.8"/>
<circle cx="588.8" cy="1729.7" r="15.3" fill="#000"/>
<circle cx="588.8" cy="1668.3" r="15.3" fill="#000"/>
<circle cx="588.8" cy="1697.5" r="13.8" fill="#000"/>
<circle cx="599.3" cy="1665.3" r="15.3" fill="#000"/>
<circle cx="599.3" cy="1726.0" r="15.3" fill="#000"/>
<circle cx="599.3" cy="1697.1" r="13.8" fill="#000"/>
<circle cx="609.9" cy="1727.2" r="15.3" fill="#000"/>
<circle cx="609.9" cy="1668.3" r="15.3" fill="#000"/>
<circle cx="609.9" cy="1696.3" r="13.8" fill="#000"/>
<path d="M591.9 1652.5H627.9" stroke="#000" stroke-width="4.8"/>
<circle cx="620.4" cy="1671.5" r="15.3" fill="#000"/>
<circle cx="620.4" cy="1718.0" r="15.3" fill="#000"/>
<circle cx="620.4" cy="1696.2" r="13.8" fill="#000"/>
<circle cx="630.9" cy="1716.3" r="15.3" fill="#000"/>
<circle cx="630.9" cy="1679.2" r="15.3" fill="#000"/>
<circle cx="630.9" cy="1696.2" r="13.8" fill="#000"/>
<circle cx="641.4" cy="1673.0" r="15.3" fill="#000"/>
<circle cx="641.4" cy="1708.5" r="15.3" fill="#000"/>
<circle cx="641.4" cy="1692.2" r="13.8" fill="#000"/>
<path d="M623.4 1724.3H659.4" stroke="#000" stroke-width="4.8"/>
<circle cx="651.9" cy="1723.6" r="15.3" fill="#000"/>
<circle cx="651.9" cy="1674.7" r="15.3" fill="#000"/>
<circle cx="651.9" cy="1697.6" r="13.8" fill="#000"/>
<circle cx="662.4" cy="1669.8" r="15.3" fill="#000"/>
<circle cx="662.4" cy="1723.8" r="15.3" fill="#000"/>
<circle cx="662.4" cy="1698.3" r="13.8" fill="#000"/>
<circle cx="673.0" cy="1711.2" r="15.3" fill="#000"/>
<circle cx="673.0" cy="1664.8" r="15.3" fill="#000"/>
<circle cx="673.0" cy="1686.5" r="13.8" fill="#000"/>
<path d="M655.0 1649.0H691.0" stroke="#000" stroke-width="4.8"/>
<circle cx="683.5" cy="1649.6" r="15.3" fill="#000"/>
<circle cx="683.5" cy="1696.0" r="15.3" fill="#000"/>
<circle cx="683.5" cy="1674.3" r="13.8" fill="#000"/>
<circle cx="694.0" cy="1697.2" r="15.3" fill="#000"/>
<circle cx="694.0" cy="1650.8" r="15.3" fill="#000"/>
<circle cx="694.0" cy="1672.5" r="13.8" fill="#000"/>
<circle cx="680.0" cy="1647.8" r="15.3" fill="#000"/>
<circle cx="680.0" cy="1699.2" r="15.3" fill="#000"/>
<circle cx="680.0" cy="1675.0" r="13.8" fill="#000"/>
<circle cx="690.8" cy="1702.2" r="15.3" fill="#000"/>
<circle cx="690.8" cy="1649.4" r="15.3" fill="#000"/>
<circle cx="690.8" cy="1674.3" r="13.8" fill="#000"/>
<path d="M672.8 1633.6H708.8" stroke="#000" stroke-width="4.8"/>
<circle cx="701.7" cy="1654.8" r="15.3" fill="#000"/>
<circle cx="701.7" cy="1699.2" r="15.3" fill="#000"/>
<circle cx="701.7" cy="1678.5" r="13.8" fill="#000"/>
<circle cx="712.5" cy="1702.2" r="15.3" fill="#000"/>
<circle cx="712.5" cy="1696.2" r="13.8" fill="#000"/>
<circle cx="780.0" cy="1670.3" r="15.3" fill="#000"/>
<circle cx="780.0" cy="1691.7" r="15.3" fill="#000"/>
<circle cx="780.0" cy="1682.5" r="13.8" fill="#000"/>
<circle cx="790.8" cy="1696.9" r="15.3" fill="#000"/>
<circle cx="790.8" cy="1671.1" r="15.3" fill="#000"/>
<circle cx="790.8" cy="1682.5" r="13.8" fill="#000"/>
<path d="M772.8 1655.3H808.8" stroke="#000" stroke-width="4.8"/>
<circle cx="801.5" cy="1666.0" r="15.3" fill="#000"/>
<circle cx="801.5" cy="1694.2" r="15.3" fill="#000"/>
<circle cx="801.5" cy="1681.6" r="13.8" fill="#000"/>
<circle cx="812.3" cy="1698.4" r="15.3" fill="#000"/>
<circle cx="812.3" cy="1666.5" r="15.3" fill="#000"/>
<circle cx="812.3" cy="1680.9" r="13.8" fill="#000"/>
<circle cx="823.1" cy="1662.3" r="15.3" fill="#000"/>
<circle cx="823.1" cy="1697.2" r="15.3" fill="#000"/>
<circle cx="823.1" cy="1681.3" r="13.8" fill="#000"/>
<path d="M805.1 1713.0H841.1" stroke="#000" stroke-width="4.8"/>
<circle cx="833.9" cy="1702.0" r="15.3" fill="#000"/>
<circle cx="833.9" cy="1668.0" r="15.3" fill="#000"/>
<circle cx="833.9" cy="1683.5" r="13.8" fill="#000"/>
<circle cx="844.6" cy="1670.1" r="15.3" fill="#000"/>
<circle cx="844.6" cy="1699.2" r="15.3" fill="#000"/>
<circle cx="844.6" cy="1686.2" r="13.8" fill="#000"/>
<circle cx="855.4" cy="1702.9" r="15.3" fill="#000"/>
<circle cx="855.4" cy="1675.1" r="15.3" fill="#000"/>
<circle cx="855.4" cy="1687.5" r="13.8" fill="#000"/>
<path d="M837.4 1659.3H873.4" stroke="#000" stroke-width="4.8"/>
<circle cx="866.2" cy="1670.8" r="15.3" fill="#000"/>
<circle cx="866.2" cy="1701.2" r="15.3" fill="#000"/>
<circle cx="866.2" cy="1687.5" r="13.8" fill="#000"/>
<circle cx="877.0" cy="1704.7" r="15.3" fill="#000"/>
<circle cx="877.0" cy="1676.8" r="15.3" fill="#000"/>
<circle cx="877.0" cy="1689.2" r="13.8" fill="#000"/>
<circle cx="887.7" cy="1676.0" r="15.3" fill="#000"/>
<circle cx="887.7" cy="1704.4" r="15.3" fill="#000"/>
<circle cx="887.7" cy="1691.7" r="13.8" fill="#000"/>
<path d="M869.7 1720.2H905.7" stroke="#000" stroke-width="4.8"/>
<circle cx="898.5" cy="1718.2" r="15.3" fill="#000"/>
<circle cx="898.5" cy="1671.8" r="15.3" fill="#000"/>
<circle cx="898.5" cy="1693.5" r="13.8" fill="#000"/>
<circle cx="909.3" cy="1666.3" r="15.3" fill="#000"/>
<circle cx="909.3" cy="1707.4" r="15.3" fill="#000"/>
<circle cx="909.3" cy="1688.3" r="13.8" fill="#000"/>
<circle cx="920.1" cy="1704.7" r="15.3" fill="#000"/>
<circle cx="920.1" cy="1668.3" r="15.3" fill="#000"/>
<circle cx="920.1" cy="1685.0" r="13.8" fill="#000"/>
<path d="M902.1 1652.5H938.1" stroke="#000" stroke-width="4.8"/>
<circle cx="930.8" cy="1665.6" r="15.3" fill="#000"/>
<circle cx="930.8" cy="1701.6" r="15.3" fill="#000"/>
<circle cx="930.8" cy="1685.1" r="13.8" fill="#000"/>
<circle cx="941.6" cy="1702.9" r="15.3" fill="#000"/>
<circle cx="941.6" cy="1671.9" r="15.3" fill="#000"/>
<circle cx="941.6" cy="1685.9" r="13.8" fill="#000"/>
<circle cx="952.4" cy="1671.4" r="15.3" fill="#000"/>
<circle cx="952.4" cy="1699.2" r="15.3" fill="#000"/>
<circle cx="952.4" cy="1686.8" r="13.8" fill="#000"/>
<path d="M934.4 1715.0H970.4" stroke="#000" stroke-width="4.8"/>
<circle cx="963.2" cy="1701.7" r="15.3" fill="#000"/>
<circle cx="963.2" cy="1675.8" r="15.3" fill="#000"/>
<circle cx="963.2" cy="1687.2" r="13.8" fill="#000"/>
<circle cx="973.9" cy="1672.8" r="15.3" fill="#000"/>
<circle cx="973.9" cy="1696.9" r="15.3" fill="#000"/>
<circle cx="973.9" cy="1686.3" r="13.8" fill="#000"/>
<circle cx="984.7" cy="1699.7" r="15.3" fill="#000"/>
<circle cx="984.7" cy="1675.8" r="15.3" fill="#000"/>
<circle cx="984.7" cy="1686.2" r="13.8" fill="#000"/>
<path d="M966.7 1660.0H1002.7" stroke="#000" stroke-width="4.8"/>
<circle cx="995.5" cy="1670.1" r="15.3" fill="#000"/>
<circle cx="995.5" cy="1697.6" r="15.3" fill="#000"/>
<circle cx="995.5" cy="1685.3" r="13.8" fill="#000"/>
<circle cx="1006.3" cy="1702.2" r="15.3" fill="#000"/>
<circle cx="1006.3" cy="1667.8" r="15.3" fill="#000"/>
<circle cx="1006.3" cy="1683.5" r="13.8" fill="#000"/>
<circle cx="1017.0" cy="1660.5" r="15.3" fill="#000"/>
<circle cx="1017.0" cy="1699.2" r="15.3" fill="#000"/>
<circle cx="1017.0" cy="1681.3" r="13.8" fill="#000"/>
<path d="M999.0 1715.0H1035.0" stroke="#000" stroke-width="4.8"/>
<circle cx="1027.8" cy="1700.1" r="15.3" fill="#000"/>
<circle cx="1027.8" cy="1653.0" r="15.3" fill="#000"/>
<circle cx="1027.8" cy="1675.1" r="13.8" fill="#000"/>
<circle cx="1038.6" cy="1656.4" r="15.3" fill="#000"/>
<circle cx="1038.6" cy="1696.7" r="15.3" fill="#000"/>
<circle cx="1038.6" cy="1678.0" r="13.8" fill="#000"/>
<circle cx="1049.4" cy="1701.1" r="15.3" fill="#000"/>
<circle cx="1049.4" cy="1666.0" r="15.3" fill="#000"/>
<circle cx="1049.4" cy="1682.1" r="13.8" fill="#000"/>
<path d="M1031.4 1650.2H1067.4" stroke="#000" stroke-width="4.8"/>
<circle cx="1060.1" cy="1667.0" r="15.3" fill="#000"/>
<circle cx="1060.1" cy="1699.2" r="15.3" fill="#000"/>
<circle cx="1060.1" cy="1684.6" r="13.8" fill="#000"/>
<circle cx="1070.9" cy="1702.4" r="15.3" fill="#000"/>
<circle cx="1070.9" cy="1673.1" r="15.3" fill="#000"/>
<circle cx="1070.9" cy="1686.2" r="13.8" fill="#000"/>
<circle cx="1081.7" cy="1668.4" r="15.3" fill="#000"/>
<circle cx="1081.7" cy="1701.1" r="15.3" fill="#000"/>
<circle cx="1081.7" cy="1686.2" r="13.8" fill="#000"/>
<path d="M1063.7 1716.9H1099.7" stroke="#000" stroke-width="4.8"/>
<circle cx="1092.5" cy="1703.6" r="15.3" fill="#000"/>
<circle cx="1092.5" cy="1668.1" r="15.3" fill="#000"/>
<circle cx="1092.5" cy="1684.4" r="13.8" fill="#000"/>
<circle cx="1103.2" cy="1661.8" r="15.3" fill="#000"/>
<circle cx="1103.2" cy="1699.2" r="15.3" fill="#000"/>
<circle cx="1103.2" cy="1682.0" r="13.8" fill="#000"/>
<circle cx="1114.0" cy="1702.2" r="15.3" fill="#000"/>
<circle cx="1114.0" cy="1668.3" r="15.3" fill="#000"/>
<circle cx="1114.0" cy="1683.8" r="13.8" fill="#000"/>
<path d="M1096.0 1652.5H1132.0" stroke="#000" stroke-width="4.8"/>
<circle cx="1017.3" cy="1664.3" r="15.3" fill="#000"/>
<circle cx="1017.3" cy="1696.9" r="15.3" fill="#000"/>
<circle cx="1017.3" cy="1682.1" r="13.8" fill="#000"/>
<circle cx="1028.1" cy="1699.9" r="15.3" fill="#000"/>
<circle cx="1028.1" cy="1662.5" r="15.3" fill="#000"/>
<circle cx="1028.1" cy="1679.7" r="13.8" fill="#000"/>
<path d="M1010.1 1646.7H1046.1" stroke="#000" stroke-width="4.8"/>
<circle cx="1038.9" cy="1662.1" r="15.3" fill="#000"/>
<circle cx="1038.9" cy="1696.9" r="15.3" fill="#000"/>
<circle cx="1038.9" cy="1681.0" r="13.8" fill="#000"/>
<circle cx="1049.7" cy="1699.9" r="15.3" fill="#000"/>
<circle cx="1049.7" cy="1669.7" r="15.3" fill="#000"/>
<circle cx="1049.7" cy="1683.3" r="13.8" fill="#000"/>
<circle cx="1060.5" cy="1670.3" r="15.3" fill="#000"/>
<circle cx="1060.5" cy="1696.3" r="15.3" fill="#000"/>
<circle cx="1060.5" cy="1684.8" r="13.8" fill="#000"/>
<path d="M1042.5 1712.1H1078.5" stroke="#000" stroke-width="4.8"/>
<circle cx="1071.3" cy="1696.9" r="15.3" fill="#000"/>
<circle cx="1071.3" cy="1674.5" r="15.3" fill="#000"/>
<circle cx="1071.3" cy="1684.2" r="13.8" fill="#000"/>
<circle cx="1082.1" cy="1672.7" r="15.3" fill="#000"/>
<circle cx="1082.1" cy="1691.5" r="15.3" fill="#000"/>
<circle cx="1082.1" cy="1683.6" r="13.8" fill="#000"/>
<circle cx="1092.9" cy="1683.4" r="15.3" fill="#000"/>
<circle cx="1092.9" cy="1675.5" r="13.8" fill="#000"/>
<path d="M1074.9 1654.8H1110.9" stroke="#000" stroke-width="4.8"/>
<circle cx="1103.7" cy="1661.4" r="15.3" fill="#000"/>
<circle cx="1103.7" cy="1666.2" r="13.8" fill="#000"/>
<circle cx="1450.0" cy="1715.3" r="15.3" fill="#000"/>
<circle cx="1450.0" cy="1720.0" r="13.8" fill="#000"/>
<circle cx="1460.7" cy="1721.6" r="15.3" fill="#000"/>
<circle cx="1460.7" cy="1700.8" r="15.3" fill="#000"/>
<circle cx="1460.7" cy="1709.7" r="13.8" fill="#000"/>
<path d="M1442.7 1685.0H1478.7" stroke="#000" stroke-width="4.8"/>
<circle cx="1471.4" cy="1688.8" r="15.3" fill="#000"/>
<circle cx="1471.4" cy="1716.7" r="15.3" fill="#000"/>
<circle cx="1471.4" cy="1704.2" r="13.8" fill="#000"/>
<circle cx="1482.0" cy="1719.7" r="15.3" fill="#000"/>
<circle cx="1482.0" cy="1698.0" r="15.3" fill="#000"/>
<circle cx="1482.0" cy="1707.4" r="13.8" fill="#000"/>
<circle cx="1492.7" cy="1691.2" r="15.3" fill="#000"/>
<circle cx="1492.7" cy="1716.7" r="15.3" fill="#000"/>
<circle cx="1492.7" cy="1705.5" r="13.8" fill="#000"/>
<path d="M1474.7 1732.5H1510.7" stroke="#000" stroke-width="4.8"/>
<circle cx="1503.4" cy="1719.7" r="15.3" fill="#000"/>
<circle cx="1503.4" cy="1691.4" r="15.3" fill="#000"/>
<circle cx="1503.4" cy="1704.1" r="13.8" fill="#000"/>
<circle cx="1514.1" cy="1686.1" r="15.3" fill="#000"/>
<circle cx="1514.1" cy="1716.7" r="15.3" fill="#000"/>
<circle cx="1514.1" cy="1702.9" r="13.8" fill="#000"/>
<circle cx="1524.7" cy="1719.7" r="15.3" fill="#000"/>
<circle cx="1524.7" cy="1691.9" r="15.3" fill="#000"/>
<circle cx="1524.7" cy="1704.3" r="13.8" fill="#000"/>
<path d="M1506.7 1676.1H1542.7" stroke="#000" stroke-width="4.8"/>
<circle cx="1535.4" cy="1694.5" r="15.3" fill="#000"/>
<circle cx="1535.4" cy="1717.9" r="15.3" fill="#000"/>
<circle cx="1535.4" cy="1707.7" r="13.8" fill="#000"/>
<circle cx="1546.1" cy="1725.4" r="15.3" fill="#000"/>
<circle cx="1546.1" cy="1703.3" r="15.3" fill="#000"/>
<circle cx="1546.1" cy="1712.9" r="13.8" fill="#000"/>
<circle cx="1556.8" cy="1700.3" r="15.3" fill="#000"/>
<circle cx="1556.8" cy="1729.5" r="15.3" fill="#000"/>
<circle cx="1556.8" cy="1716.4" r="13.8" fill="#000"/>
<path d="M1538.8 1745.3H1574.8" stroke="#000" stroke-width="4.8"/>
<circle cx="1567.4" cy="1736.6" r="15.3" fill="#000"/>
<circle cx="1567.4" cy="1703.3" r="15.3" fill="#000"/>
<circle cx="1567.4" cy="1718.4" r="13.8" fill="#000"/>
<circle cx="1578.1" cy="1700.3" r="15.3" fill="#000"/>
<circle cx="1578.1" cy="1736.2" r="15.3" fill="#000"/>
<circle cx="1578.1" cy="1719.8" r="13.8" fill="#000"/>
<circle cx="1588.8" cy="1739.7" r="15.3" fill="#000"/>
<circle cx="1588.8" cy="1709.2" r="15.3" fill="#000"/>
<circle cx="1588.8" cy="1722.9" r="13.8" fill="#000"/>
<path d="M1570.8 1693.4H1606.8" stroke="#000" stroke-width="4.8"/>
<circle cx="1599.5" cy="1709.6" r="15.3" fill="#000"/>
<circle cx="1599.5" cy="1736.7" r="15.3" fill="#000"/>
<circle cx="1599.5" cy="1724.6" r="13.8" fill="#000"/>
<circle cx="1610.1" cy="1739.7" r="15.3" fill="#000"/>
<circle cx="1610.1" cy="1710.7" r="15.3" fill="#000"/>
<circle cx="1610.1" cy="1723.7" r="13.8" fill="#000"/>
<circle cx="1620.8" cy="1703.2" r="15.3" fill="#000"/>
<circle cx="1620.8" cy="1736.7" r="15.3" fill="#000"/>
<circle cx="1620.8" cy="1721.4" r="13.8" fill="#000"/>
<path d="M1602.8 1752.5H1638.8" stroke="#000" stroke-width="4.8"/>
<circle cx="1631.5" cy="1741.3" r="15.3" fill="#000"/>
<circle cx="1631.5" cy="1706.5" r="15.3" fill="#000"/>
<circle cx="1631.5" cy="1722.4" r="13.8" fill="#000"/>
<circle cx="1642.2" cy="1712.0" r="15.3" fill="#000"/>
<circle cx="1642.2" cy="1742.1" r="15.3" fill="#000"/>
<circle cx="1642.2" cy="1728.6" r="13.8" fill="#000"/>
<circle cx="1652.8" cy="1747.3" r="15.3" fill="#000"/>
<circle cx="1652.8" cy="1723.3" r="15.3" fill="#000"/>
<circle cx="1652.8" cy="1733.8" r="13.8" fill="#000"/>
<path d="M1634.8 1707.5H1670.8" stroke="#000" stroke-width="4.8"/>
<circle cx="1663.5" cy="1720.3" r="15.3" fill="#000"/>
<circle cx="1663.5" cy="1746.4" r="15.3" fill="#000"/>
<circle cx="1663.5" cy="1734.9" r="13.8" fill="#000"/>
<circle cx="1674.2" cy="1746.0" r="15.3" fill="#000"/>
<circle cx="1674.2" cy="1701.2" r="15.3" fill="#000"/>
<circle cx="1674.2" cy="1722.1" r="13.8" fill="#000"/>
<circle cx="1684.9" cy="1687.8" r="15.3" fill="#000"/>
<circle cx="1684.9" cy="1731.9" r="15.3" fill="#000"/>
<circle cx="1684.9" cy="1711.4" r="13.8" fill="#000"/>
<path d="M1666.9 1747.7H1702.9" stroke="#000" stroke-width="4.8"/>
<circle cx="1695.5" cy="1723.5" r="15.3" fill="#000"/>
<circle cx="1695.5" cy="1693.8" r="15.3" fill="#000"/>
<circle cx="1695.5" cy="1707.1" r="13.8" fill="#000"/>
<circle cx="1706.2" cy="1708.0" r="15.3" fill="#000"/>
<circle cx="1706.2" cy="1714.1" r="13.8" fill="#000"/>
<circle cx="1716.9" cy="1723.7" r="15.3" fill="#000"/>
<circle cx="1716.9" cy="1716.7" r="13.8" fill="#000"/>
<path d="M1698.9 1697.0H1734.9" stroke="#000" stroke-width="4.8"/>
<circle cx="1727.6" cy="1705.3" r="15.3" fill="#000"/>
<circle cx="1727.6" cy="1724.2" r="15.3" fill="#000"/>
<circle cx="1727.6" cy="1716.2" r="13.8" fill="#000"/>
<circle cx="1738.2" cy="1729.7" r="15.3" fill="#000"/>
<circle cx="1738.2" cy="1701.0" r="15.3" fill="#000"/>
<circle cx="1738.2" cy="1713.8" r="13.8" fill="#000"/>
<circle cx="1748.9" cy="1690.4" r="15.3" fill="#000"/>
<circle cx="1748.9" cy="1726.7" r="15.3" fill="#000"/>
<circle cx="1748.9" cy="1710.0" r="13.8" fill="#000"/>
<path d="M1730.9 1742.5H1766.9" stroke="#000" stroke-width="4.8"/>
<circle cx="1759.6" cy="1728.5" r="15.3" fill="#000"/>
<circle cx="1759.6" cy="1690.2" r="15.3" fill="#000"/>
<circle cx="1759.6" cy="1707.9" r="13.8" fill="#000"/>
<circle cx="1770.3" cy="1688.2" r="15.3" fill="#000"/>
<circle cx="1770.3" cy="1723.7" r="15.3" fill="#000"/>
<circle cx="1770.3" cy="1707.5" r="13.8" fill="#000"/>
<circle cx="1780.9" cy="1725.0" r="15.3" fill="#000"/>
<circle cx="1780.9" cy="1697.4" r="15.3" fill="#000"/>
<circle cx="1780.9" cy="1709.7" r="13.8" fill="#000"/>
<path d="M1762.9 1681.6H1798.9" stroke="#000" stroke-width="4.8"/>
<circle cx="1791.6" cy="1695.3" r="15.3" fill="#000"/>
<circle cx="1791.6" cy="1721.7" r="15.3" fill="#000"/>
<circle cx="1791.6" cy="1710.0" r="13.8" fill="#000"/>
<circle cx="1802.3" cy="1724.7" r="15.3" fill="#000"/>
<circle cx="1802.3" cy="1699.4" r="15.3" fill="#000"/>
<circle cx="1802.3" cy="1710.6" r="13.8" fill="#000"/>
<circle cx="1813.0" cy="1701.8" r="15.3" fill="#000"/>
<circle cx="1813.0" cy="1721.7" r="15.3" fill="#000"/>
<circle cx="1813.0" cy="1713.2" r="13.8" fill="#000"/>
<path d="M1795.0 1737.5H1831.0" stroke="#000" stroke-width="4.8"/>
<circle cx="1823.6" cy="1727.2" r="15.3" fill="#000"/>
<circle cx="1823.6" cy="1708.3" r="15.3" fill="#000"/>
<circle cx="1823.6" cy="1716.2" r="13.8" fill="#000"/>
<circle cx="1834.3" cy="1707.8" r="15.3" fill="#000"/>
<circle cx="1834.3" cy="1727.4" r="15.3" fill="#000"/>
<circle cx="1834.3" cy="1719.1" r="13.8" fill="#000"/>
<circle cx="1845.0" cy="1734.7" r="15.3" fill="#000"/>
<circle cx="1845.0" cy="1710.8" r="15.3" fill="#000"/>
<circle cx="1845.0" cy="1721.2" r="13.8" fill="#000"/>
<path d="M1827.0 1695.0H1863.0" stroke="#000" stroke-width="4.8"/>
<circle cx="1740.0" cy="1693.2" r="15.3" fill="#000"/>
<circle cx="1740.0" cy="1717.9" r="15.3" fill="#000"/>
<circle cx="1740.0" cy="1707.0" r="13.8" fill="#000"/>
<circle cx="1750.5" cy="1720.9" r="15.3" fill="#000"/>
<circle cx="1750.5" cy="1692.7" r="15.3" fill="#000"/>
<circle cx="1750.5" cy="1705.3" r="13.8" fill="#000"/>
<path d="M1732.5 1676.9H1768.5" stroke="#000" stroke-width="4.8"/>
<circle cx="1761.0" cy="1687.4" r="15.3" fill="#000"/>
<circle cx="1761.0" cy="1717.9" r="15.3" fill="#000"/>
<circle cx="1761.0" cy="1704.1" r="13.8" fill="#000"/>
<circle cx="1771.5" cy="1720.9" r="15.3" fill="#000"/>
<circle cx="1771.5" cy="1690.4" r="15.3" fill="#000"/>
<circle cx="1771.5" cy="1704.1" r="13.8" fill="#000"/>
<circle cx="1782.0" cy="1690.9" r="15.3" fill="#000"/>
<circle cx="1782.0" cy="1716.7" r="15.3" fill="#000"/>
<circle cx="1782.0" cy="1705.3" r="13.8" fill="#000"/>
<path d="M1764.0 1732.5H1800.0" stroke="#000" stroke-width="4.8"/>
<circle cx="1792.5" cy="1718.0" r="15.3" fill="#000"/>
<circle cx="1792.5" cy="1699.1" r="15.3" fill="#000"/>
<circle cx="1792.5" cy="1707.0" r="13.8" fill="#000"/>
<circle cx="1803.0" cy="1697.9" r="15.3" fill="#000"/>
<circle cx="1803.0" cy="1706.2" r="13.8" fill="#000"/>
<circle cx="1813.5" cy="1713.9" r="15.3" fill="#000"/>
<circle cx="1813.5" cy="1707.0" r="13.8" fill="#000"/>
<path d="M1795.5 1687.4H1831.5" stroke="#000" stroke-width="4.8"/>
<circle cx="1824.0" cy="1703.7" r="15.3" fill="#000"/>
<circle cx="1824.0" cy="1711.4" r="13.8" fill="#000"/>
<circle cx="1834.4" cy="1725.6" r="15.3" fill="#000"/>
<circle cx="1834.4" cy="1710.2" r="15.3" fill="#000"/>
<circle cx="1834.4" cy="1716.4" r="13.8" fill="#000"/>
<circle cx="1844.9" cy="1710.7" r="15.3" fill="#000"/>
<circle cx="1844.9" cy="1729.6" r="15.3" fill="#000"/>
<circle cx="1844.9" cy="1721.6" r="13.8" fill="#000"/>
<path d="M1826.9 1745.4H1862.9" stroke="#000" stroke-width="4.8"/>
<circle cx="1855.4" cy="1737.8" r="15.3" fill="#000"/>
<circle cx="1855.4" cy="1729.5" r="13.8" fill="#000"/>
<circle cx="1865.9" cy="1731.7" r="15.3" fill="#000"/>
<circle cx="1865.9" cy="1740.7" r="13.8" fill="#000"/>
<circle cx="1876.4" cy="1774.9" r="15.3" fill="#000"/>
<circle cx="1876.4" cy="1745.2" r="15.3" fill="#000"/>
<circle cx="1876.4" cy="1758.5" r="13.8" fill="#000"/>
<path d="M1858.4 1729.4H1894.4" stroke="#000" stroke-width="4.8"/>
<circle cx="1886.9" cy="1772.5" r="15.3" fill="#000"/>
<circle cx="1886.9" cy="1779.3" r="13.8" fill="#000"/>
<circle cx="1897.4" cy="1828.7" r="15.3" fill="#000"/>
<circle cx="1897.4" cy="1823.6" r="13.8" fill="#000"/>
<path d="M398.8 1640.0V1682.5M380.8 1640.0H416.8M380.8 1682.5H416.8" stroke="#000" stroke-width="4.8" fill="none"/><circle cx="398.8" cy="1661.2" r="15.6" fill="#000"/>
<path d="M568.8 1627.5V1657.5M550.8 1627.5H586.8M550.8 1657.5H586.8" stroke="#000" stroke-width="4.8" fill="none"/><circle cx="568.8" cy="1642.5" r="15.6" fill="#000"/>
<path d="M657.5 1698.8V1783.8M639.5 1698.8H675.5M639.5 1783.8H675.5" stroke="#000" stroke-width="4.8" fill="none"/><circle cx="657.5" cy="1741.2" r="15.6" fill="#000"/>
<path d="M698.8 1613.8V1686.2M680.8 1613.8H716.8M680.8 1686.2H716.8" stroke="#000" stroke-width="4.8" fill="none"/><circle cx="698.8" cy="1650.0" r="15.6" fill="#000"/>
<path d="M755.0 1703.8V1751.2M737.0 1703.8H773.0M737.0 1751.2H773.0" stroke="#000" stroke-width="4.8" fill="none"/><circle cx="755.0" cy="1727.5" r="15.6" fill="#000"/>
<path d="M720.0 1730.0V1765.0M702.0 1730.0H738.0M702.0 1765.0H738.0" stroke="#000" stroke-width="4.8" fill="none"/><circle cx="720.0" cy="1747.5" r="15.6" fill="#000"/>
<path d="M737.5 1761.2V1788.8M719.5 1761.2H755.5M719.5 1788.8H755.5" stroke="#000" stroke-width="4.8" fill="none"/><circle cx="737.5" cy="1775.0" r="15.6" fill="#000"/>
<path d="M735.0 1780.0V1810.0M717.0 1780.0H753.0M717.0 1810.0H753.0" stroke="#000" stroke-width="4.8" fill="none"/><circle cx="735.0" cy="1795.0" r="15.6" fill="#000"/>
<path d="M870.0 1632.5V1700.0M852.0 1632.5H888.0M852.0 1700.0H888.0" stroke="#000" stroke-width="4.8" fill="none"/><circle cx="870.0" cy="1666.2" r="15.6" fill="#000"/>
<path d="M946.2 1637.5V1690.0M928.2 1637.5H964.2M928.2 1690.0H964.2" stroke="#000" stroke-width="4.8" fill="none"/><circle cx="946.2" cy="1663.8" r="15.6" fill="#000"/>
<path d="M955.0 1662.5V1747.5M937.0 1662.5H973.0M937.0 1747.5H973.0" stroke="#000" stroke-width="4.8" fill="none"/><circle cx="955.0" cy="1705.0" r="15.6" fill="#000"/>
<path d="M1030.0 1627.5V1667.5M1012.0 1627.5H1048.0M1012.0 1667.5H1048.0" stroke="#000" stroke-width="4.8" fill="none"/><circle cx="1030.0" cy="1647.5" r="15.6" fill="#000"/>
<path d="M1103.7 1646.1V1674.9M1085.7 1646.1H1121.7M1085.7 1674.9H1121.7" stroke="#000" stroke-width="4.8" fill="none"/><circle cx="1103.7" cy="1660.5" r="15.6" fill="#000"/>
<path d="M1468.0 1670.6V1702.2M1450.0 1670.6H1486.0M1450.0 1702.2H1486.0" stroke="#000" stroke-width="4.8" fill="none"/><circle cx="1468.0" cy="1686.4" r="15.6" fill="#000"/>
<path d="M1126.2 1906.8V1935.8M1108.2 1906.8H1144.2M1108.2 1935.8H1144.2" stroke="#000" stroke-width="4.8" fill="none"/><circle cx="1126.2" cy="1921.2" r="15.6" fill="#000"/>
<circle cx="1413.8" cy="2056.2" r="15.6" fill="#000"/>
<path d="M1906.2 1832.4V1897.7M1888.2 1832.4H1924.2M1888.2 1897.7H1924.2" stroke="#000" stroke-width="4.8" fill="none"/><circle cx="1906.2" cy="1865.0" r="15.6" fill="#000"/>
<path d="M1917.2 2056.0V2124.8M1899.2 2056.0H1935.2M1899.2 2124.8H1935.2" stroke="#000" stroke-width="4.8" fill="none"/><circle cx="1917.2" cy="2090.4" r="15.6" fill="#000"/>
<path d="M302.5 1697.5V1722.5M284.5 1697.5H320.5M284.5 1722.5H320.5" stroke="#000" stroke-width="4.8" fill="none"/><circle cx="302.5" cy="1710.0" r="12.6" fill="#fff" stroke="#000" stroke-width="6.6"/>
<circle cx="332.5" cy="1696.2" r="12.6" fill="#fff" stroke="#000" stroke-width="6.6"/>
<circle cx="357.5" cy="1697.5" r="12.6" fill="#fff" stroke="#000" stroke-width="6.6"/>
<circle cx="342.5" cy="1713.8" r="12.6" fill="#fff" stroke="#000" stroke-width="6.6"/>
<path d="M367.5 1749.2V1773.2M349.5 1749.2H385.5M349.5 1773.2H385.5" stroke="#000" stroke-width="4.8" fill="none"/><circle cx="367.5" cy="1761.2" r="12.6" fill="#fff" stroke="#000" stroke-width="6.6"/>
<path d="M387.5 1781.2V1801.2M369.5 1781.2H405.5M369.5 1801.2H405.5" stroke="#000" stroke-width="4.8" fill="none"/><circle cx="387.5" cy="1791.2" r="13.4" fill="#fff" stroke="#000" stroke-width="4.9"/>
<path d="M417.5 1692.5V1737.5M399.5 1692.5H435.5M399.5 1737.5H435.5" stroke="#000" stroke-width="4.8" fill="none"/><circle cx="417.5" cy="1715.0" r="12.6" fill="#fff" stroke="#000" stroke-width="6.6"/>
<path d="M440.0 1712.5V1737.5M422.0 1712.5H458.0M422.0 1737.5H458.0" stroke="#000" stroke-width="4.8" fill="none"/><circle cx="440.0" cy="1725.0" r="12.6" fill="#fff" stroke="#000" stroke-width="6.6"/>
<path d="M452.5 1646.2V1688.8M434.5 1646.2H470.5M434.5 1688.8H470.5" stroke="#000" stroke-width="4.8" fill="none"/><circle cx="452.5" cy="1667.5" r="12.6" fill="#fff" stroke="#000" stroke-width="6.6"/>
<path d="M483.8 1638.0V1703.0M465.8 1638.0H501.8M465.8 1703.0H501.8" stroke="#000" stroke-width="4.8" fill="none"/><circle cx="483.8" cy="1670.5" r="12.6" fill="#fff" stroke="#000" stroke-width="6.6"/>
<circle cx="462.5" cy="1698.0" r="12.6" fill="#fff" stroke="#000" stroke-width="6.6"/>
<circle cx="492.5" cy="1706.2" r="12.6" fill="#fff" stroke="#000" stroke-width="6.6"/>
<path d="M525.0 1685.0V1715.0M507.0 1685.0H543.0M507.0 1715.0H543.0" stroke="#000" stroke-width="4.8" fill="none"/><circle cx="525.0" cy="1700.0" r="12.6" fill="#fff" stroke="#000" stroke-width="6.6"/>
<circle cx="535.0" cy="1677.5" r="12.6" fill="#fff" stroke="#000" stroke-width="6.6"/>
<circle cx="567.5" cy="1685.0" r="12.6" fill="#fff" stroke="#000" stroke-width="6.6"/>
<circle cx="592.5" cy="1682.5" r="12.6" fill="#fff" stroke="#000" stroke-width="6.6"/>
<circle cx="622.5" cy="1688.8" r="12.6" fill="#fff" stroke="#000" stroke-width="6.6"/>
<circle cx="602.5" cy="1710.0" r="12.6" fill="#fff" stroke="#000" stroke-width="6.6"/>
<circle cx="547.5" cy="1720.0" r="12.6" fill="#fff" stroke="#000" stroke-width="6.6"/>
<circle cx="580.0" cy="1730.0" r="12.6" fill="#fff" stroke="#000" stroke-width="6.6"/>
<path d="M642.5 1646.8V1689.2M624.5 1646.8H660.5M624.5 1689.2H660.5" stroke="#000" stroke-width="4.8" fill="none"/><circle cx="642.5" cy="1668.0" r="12.6" fill="#fff" stroke="#000" stroke-width="6.6"/>
<circle cx="655.0" cy="1696.2" r="12.6" fill="#fff" stroke="#000" stroke-width="6.6"/>
<circle cx="665.0" cy="1727.5" r="12.6" fill="#fff" stroke="#000" stroke-width="6.6"/>
<circle cx="682.5" cy="1677.5" r="12.6" fill="#fff" stroke="#000" stroke-width="6.6"/>
<circle cx="680.0" cy="1700.0" r="12.6" fill="#fff" stroke="#000" stroke-width="6.6"/>
<circle cx="1115.2" cy="1736.8" r="12.6" fill="#fff" stroke="#000" stroke-width="6.6"/>
<circle cx="1466.6" cy="1718.1" r="12.6" fill="#fff" stroke="#000" stroke-width="6.6"/>
<path d="M710.0 1677.5V1712.5M692.0 1677.5H728.0M692.0 1712.5H728.0" stroke="#000" stroke-width="4.8" fill="none"/><circle cx="710.0" cy="1695.0" r="12.6" fill="#fff" stroke="#000" stroke-width="6.6"/>
<path d="M760.0 1680.0V1725.0M742.0 1680.0H778.0M742.0 1725.0H778.0" stroke="#000" stroke-width="4.8" fill="none"/><circle cx="760.0" cy="1702.5" r="12.6" fill="#fff" stroke="#000" stroke-width="6.6"/>
<circle cx="802.5" cy="1681.2" r="12.6" fill="#fff" stroke="#000" stroke-width="6.6"/>
<circle cx="847.5" cy="1687.5" r="12.6" fill="#fff" stroke="#000" stroke-width="6.6"/>
<circle cx="877.5" cy="1696.2" r="12.6" fill="#fff" stroke="#000" stroke-width="6.6"/>
<circle cx="902.5" cy="1685.0" r="12.6" fill="#fff" stroke="#000" stroke-width="6.6"/>
<circle cx="922.5" cy="1662.5" r="12.6" fill="#fff" stroke="#000" stroke-width="6.6"/>
<path d="M891.2 1705.0V1735.0M873.2 1705.0H909.2M873.2 1735.0H909.2" stroke="#000" stroke-width="4.8" fill="none"/><circle cx="891.2" cy="1720.0" r="12.6" fill="#fff" stroke="#000" stroke-width="6.6"/>
<circle cx="960.0" cy="1682.5" r="12.6" fill="#fff" stroke="#000" stroke-width="6.6"/>
<circle cx="1027.5" cy="1675.0" r="12.6" fill="#fff" stroke="#000" stroke-width="6.6"/>
<circle cx="1060.0" cy="1676.2" r="12.6" fill="#fff" stroke="#000" stroke-width="6.6"/>
<circle cx="1082.5" cy="1681.2" r="12.6" fill="#fff" stroke="#000" stroke-width="6.6"/>
<circle cx="1035.0" cy="1702.5" r="12.6" fill="#fff" stroke="#000" stroke-width="6.6"/>
<circle cx="1105.0" cy="1697.5" r="12.6" fill="#fff" stroke="#000" stroke-width="6.6"/>
<path d="M1072.5 1692.5V1752.5M1054.5 1692.5H1090.5M1054.5 1752.5H1090.5" stroke="#000" stroke-width="4.8" fill="none"/><circle cx="1072.5" cy="1722.5" r="12.6" fill="#fff" stroke="#000" stroke-width="6.6"/>
<circle cx="1095.0" cy="1720.0" r="12.6" fill="#fff" stroke="#000" stroke-width="6.6"/>
<circle cx="987.5" cy="1687.5" r="12.6" fill="#fff" stroke="#000" stroke-width="6.6"/>
<path d="M932.5 1711.2V1723.8M914.5 1711.2H950.5M914.5 1723.8H950.5" stroke="#000" stroke-width="4.8" fill="none"/><circle cx="932.5" cy="1717.5" r="12.6" fill="#fff" stroke="#000" stroke-width="6.6"/>
<path d="M720.0 1783.8V1861.2M702.0 1783.8H738.0M702.0 1861.2H738.0" stroke="#000" stroke-width="4.8" fill="none"/><circle cx="720.0" cy="1822.5" r="13.4" fill="#fff" stroke="#000" stroke-width="4.9"/>
<circle cx="780.0" cy="1675.0" r="12.6" fill="#fff" stroke="#000" stroke-width="6.6"/>
<path d="M1126.2 1860.8V1888.2M1108.2 1860.8H1144.2M1108.2 1888.2H1144.2" stroke="#000" stroke-width="4.8" fill="none"/><circle cx="1126.2" cy="1874.5" r="13.4" fill="#fff" stroke="#000" stroke-width="4.9"/>
<circle cx="1137.5" cy="1976.2" r="13.4" fill="#fff" stroke="#000" stroke-width="4.9"/>
<path d="M1167.5 2023.0V2047.0M1149.5 2023.0H1185.5M1149.5 2047.0H1185.5" stroke="#000" stroke-width="4.8" fill="none"/><circle cx="1167.5" cy="2035.0" r="13.4" fill="#fff" stroke="#000" stroke-width="4.9"/>
<circle cx="1180.0" cy="2028.0" r="13.4" fill="#fff" stroke="#000" stroke-width="4.9"/>
<path d="M1221.2 2011.0V2045.0M1203.2 2011.0H1239.2M1203.2 2045.0H1239.2" stroke="#000" stroke-width="4.8" fill="none"/><circle cx="1221.2" cy="2028.0" r="13.4" fill="#fff" stroke="#000" stroke-width="4.9"/>
<path d="M1146.2 2062.5V2108.5M1128.2 2062.5H1164.2M1128.2 2108.5H1164.2" stroke="#000" stroke-width="4.8" fill="none"/><circle cx="1146.2" cy="2085.5" r="13.4" fill="#fff" stroke="#000" stroke-width="4.9"/>
<path d="M1340.0 1980.5V2030.5M1322.0 1980.5H1358.0M1322.0 2030.5H1358.0" stroke="#000" stroke-width="4.8" fill="none"/><circle cx="1340.0" cy="2005.5" r="13.4" fill="#fff" stroke="#000" stroke-width="4.9"/>
<circle cx="1325.0" cy="2017.5" r="13.4" fill="#fff" stroke="#000" stroke-width="4.9"/>
<circle cx="1317.5" cy="2051.2" r="13.4" fill="#fff" stroke="#000" stroke-width="4.9"/>
<circle cx="1308.8" cy="2106.2" r="13.4" fill="#fff" stroke="#000" stroke-width="4.9"/>
<path d="M1285.0 2103.8V2143.8M1267.0 2103.8H1303.0M1267.0 2143.8H1303.0" stroke="#000" stroke-width="4.8" fill="none"/><circle cx="1285.0" cy="2123.8" r="13.4" fill="#fff" stroke="#000" stroke-width="4.9"/>
<path d="M1445.0 1707.5V1797.5M1427.0 1707.5H1463.0M1427.0 1797.5H1463.0" stroke="#000" stroke-width="4.8" fill="none"/><circle cx="1445.0" cy="1752.5" r="12.6" fill="#fff" stroke="#000" stroke-width="6.6"/>
<circle cx="1467.5" cy="1717.5" r="12.6" fill="#fff" stroke="#000" stroke-width="6.6"/>
<circle cx="1498.8" cy="1720.0" r="12.6" fill="#fff" stroke="#000" stroke-width="6.6"/>
<circle cx="1532.5" cy="1706.2" r="12.6" fill="#fff" stroke="#000" stroke-width="6.6"/>
<path d="M1512.5 1730.0V1765.0M1494.5 1730.0H1530.5M1494.5 1765.0H1530.5" stroke="#000" stroke-width="4.8" fill="none"/><circle cx="1512.5" cy="1747.5" r="12.6" fill="#fff" stroke="#000" stroke-width="6.6"/>
<circle cx="1585.0" cy="1703.8" r="12.6" fill="#fff" stroke="#000" stroke-width="6.6"/>
<path d="M1573.8 1700.0V1760.0M1555.8 1700.0H1591.8M1555.8 1760.0H1591.8" stroke="#000" stroke-width="4.8" fill="none"/><circle cx="1573.8" cy="1730.0" r="12.6" fill="#fff" stroke="#000" stroke-width="6.6"/>
<circle cx="1606.2" cy="1738.8" r="12.6" fill="#fff" stroke="#000" stroke-width="6.6"/>
<circle cx="1628.8" cy="1710.0" r="12.6" fill="#fff" stroke="#000" stroke-width="6.6"/>
<circle cx="1637.5" cy="1730.0" r="12.6" fill="#fff" stroke="#000" stroke-width="6.6"/>
<circle cx="1650.0" cy="1745.0" r="12.6" fill="#fff" stroke="#000" stroke-width="6.6"/>
<path d="M1661.2 1757.5V1792.5M1643.2 1757.5H1679.2M1643.2 1792.5H1679.2" stroke="#000" stroke-width="4.8" fill="none"/><circle cx="1661.2" cy="1775.0" r="12.6" fill="#fff" stroke="#000" stroke-width="6.6"/>
<circle cx="1692.5" cy="1685.0" r="12.6" fill="#fff" stroke="#000" stroke-width="6.6"/>
<circle cx="1680.0" cy="1708.8" r="12.6" fill="#fff" stroke="#000" stroke-width="6.6"/>
<path d="M1735.0 1687.5V1747.5M1717.0 1687.5H1753.0M1717.0 1747.5H1753.0" stroke="#000" stroke-width="4.8" fill="none"/><circle cx="1735.0" cy="1717.5" r="12.6" fill="#fff" stroke="#000" stroke-width="6.6"/>
<circle cx="1765.0" cy="1710.0" r="12.6" fill="#fff" stroke="#000" stroke-width="6.6"/>
<circle cx="1780.0" cy="1710.0" r="12.6" fill="#fff" stroke="#000" stroke-width="6.6"/>
<path d="M1800.0 1677.5V1747.5M1782.0 1677.5H1818.0M1782.0 1747.5H1818.0" stroke="#000" stroke-width="4.8" fill="none"/><circle cx="1800.0" cy="1712.5" r="12.6" fill="#fff" stroke="#000" stroke-width="6.6"/>
<circle cx="1810.0" cy="1695.0" r="12.6" fill="#fff" stroke="#000" stroke-width="6.6"/>
<path d="M1842.5 1742.5V1792.5M1824.5 1742.5H1860.5M1824.5 1792.5H1860.5" stroke="#000" stroke-width="4.8" fill="none"/><circle cx="1842.5" cy="1767.5" r="12.6" fill="#fff" stroke="#000" stroke-width="6.6"/>
<circle cx="1862.4" cy="1791.6" r="13.4" fill="#fff" stroke="#000" stroke-width="4.9"/>
<path d="M1874.1 1811.4V1834.7M1856.1 1811.4H1892.1M1856.1 1834.7H1892.1" stroke="#000" stroke-width="4.8" fill="none"/><circle cx="1874.1" cy="1823.1" r="13.4" fill="#fff" stroke="#000" stroke-width="4.9"/>
<path d="M1897.4 1910.2V1961.5M1879.4 1910.2H1915.4M1879.4 1961.5H1915.4" stroke="#000" stroke-width="4.8" fill="none"/><circle cx="1897.4" cy="1935.9" r="13.4" fill="#fff" stroke="#000" stroke-width="4.9"/>
<circle cx="1905.6" cy="1992.7" r="13.4" fill="#fff" stroke="#000" stroke-width="4.9"/>
</g>
<g id="axes">
<line x1="263.2" y1="17.6" x2="263.2" y2="2276.0" stroke="#303030" stroke-width="6.8"/>
<line x1="1971.0" y1="17.6" x2="1971.0" y2="2276.0" stroke="#303030" stroke-width="6.8"/>
<line x1="259.8" y1="21.0" x2="1974.4" y2="21.0" stroke="#303030" stroke-width="6.8"/>
<line x1="263.2" y1="766.3" x2="1971.0" y2="766.3" stroke="#303030" stroke-width="6.8"/>
<line x1="243.2" y1="1509.3" x2="1971.0" y2="1509.3" stroke="#303030" stroke-width="6.8"/>
<line x1="243.2" y1="2253.5" x2="1971.0" y2="2253.5" stroke="#303030" stroke-width="6.8"/>
<line x1="243.2" y1="114.0" x2="263.2" y2="114.0" stroke="#303030" stroke-width="5.8"/>
<line x1="243.2" y1="301.0" x2="263.2" y2="301.0" stroke="#303030" stroke-width="5.8"/>
<line x1="243.2" y1="488.0" x2="263.2" y2="488.0" stroke="#303030" stroke-width="5.8"/>
<line x1="243.2" y1="675.0" x2="263.2" y2="675.0" stroke="#303030" stroke-width="5.8"/>
<line x1="243.2" y1="902.5" x2="263.2" y2="902.5" stroke="#303030" stroke-width="5.8"/>
<line x1="243.2" y1="1053.5" x2="263.2" y2="1053.5" stroke="#303030" stroke-width="5.8"/>
<line x1="243.2" y1="1205.0" x2="263.2" y2="1205.0" stroke="#303030" stroke-width="5.8"/>
<line x1="243.2" y1="1358.0" x2="263.2" y2="1358.0" stroke="#303030" stroke-width="5.8"/>
<line x1="243.2" y1="1564.4" x2="263.2" y2="1564.4" stroke="#303030" stroke-width="5.8"/>
<line x1="243.2" y1="1679.2" x2="263.2" y2="1679.2" stroke="#303030" stroke-width="5.8"/>
<line x1="243.2" y1="1794.0" x2="263.2" y2="1794.0" stroke="#303030" stroke-width="5.8"/>
<line x1="243.2" y1="1909.0" x2="263.2" y2="1909.0" stroke="#303030" stroke-width="5.8"/>
<line x1="243.2" y1="2024.0" x2="263.2" y2="2024.0" stroke="#303030" stroke-width="5.8"/>
<line x1="243.2" y1="2138.7" x2="263.2" y2="2138.7" stroke="#303030" stroke-width="5.8"/>
<line x1="476.4" y1="2253.5" x2="476.4" y2="2276.0" stroke="#303030" stroke-width="5.8"/>
<line x1="476.4" y1="751.3" x2="476.4" y2="766.3" stroke="#303030" stroke-width="5.8"/>
<line x1="476.4" y1="1494.3" x2="476.4" y2="1509.3" stroke="#303030" stroke-width="5.8"/>
<line x1="689.9" y1="2253.5" x2="689.9" y2="2276.0" stroke="#303030" stroke-width="5.8"/>
<line x1="689.9" y1="751.3" x2="689.9" y2="766.3" stroke="#303030" stroke-width="5.8"/>
<line x1="689.9" y1="1494.3" x2="689.9" y2="1509.3" stroke="#303030" stroke-width="5.8"/>
<line x1="903.3" y1="2253.5" x2="903.3" y2="2276.0" stroke="#303030" stroke-width="5.8"/>
<line x1="903.3" y1="751.3" x2="903.3" y2="766.3" stroke="#303030" stroke-width="5.8"/>
<line x1="903.3" y1="1494.3" x2="903.3" y2="1509.3" stroke="#303030" stroke-width="5.8"/>
<line x1="1116.8" y1="2253.5" x2="1116.8" y2="2276.0" stroke="#303030" stroke-width="5.8"/>
<line x1="1116.8" y1="751.3" x2="1116.8" y2="766.3" stroke="#303030" stroke-width="5.8"/>
<line x1="1116.8" y1="1494.3" x2="1116.8" y2="1509.3" stroke="#303030" stroke-width="5.8"/>
<line x1="1330.2" y1="2253.5" x2="1330.2" y2="2276.0" stroke="#303030" stroke-width="5.8"/>
<line x1="1330.2" y1="751.3" x2="1330.2" y2="766.3" stroke="#303030" stroke-width="5.8"/>
<line x1="1330.2" y1="1494.3" x2="1330.2" y2="1509.3" stroke="#303030" stroke-width="5.8"/>
<line x1="1543.6" y1="2253.5" x2="1543.6" y2="2276.0" stroke="#303030" stroke-width="5.8"/>
<line x1="1543.6" y1="751.3" x2="1543.6" y2="766.3" stroke="#303030" stroke-width="5.8"/>
<line x1="1543.6" y1="1494.3" x2="1543.6" y2="1509.3" stroke="#303030" stroke-width="5.8"/>
<line x1="1757.1" y1="2253.5" x2="1757.1" y2="2276.0" stroke="#303030" stroke-width="5.8"/>
<line x1="1757.1" y1="751.3" x2="1757.1" y2="766.3" stroke="#303030" stroke-width="5.8"/>
<line x1="1757.1" y1="1494.3" x2="1757.1" y2="1509.3" stroke="#303030" stroke-width="5.8"/>
</g>
<g id="labels">
<text x="191.0" y="130.0" font-size="51" fill="#0d0d0d" stroke="#0d0d0d" stroke-width="1.3" letter-spacing="1.1">4</text>
<text x="191.0" y="318.0" font-size="51" fill="#0d0d0d" stroke="#0d0d0d" stroke-width="1.3" letter-spacing="1.1">3</text>
<text x="191.0" y="501.0" font-size="51" fill="#0d0d0d" stroke="#0d0d0d" stroke-width="1.3" letter-spacing="1.1">2</text>
<text x="194.0" y="687.0" font-size="51" fill="#0d0d0d" stroke="#0d0d0d" stroke-width="1.3" letter-spacing="1.1">1</text><rect x="195.06" y="681.32" width="11.33" height="8.12" fill="#fff"/><rect x="211.83" y="681.32" width="10.77" height="8.12" fill="#fff"/>
<text x="161.6" y="915.5" font-size="51" fill="#0d0d0d" stroke="#0d0d0d" stroke-width="1.3" letter-spacing="1.1">20</text>
<text x="161.6" y="1070.0" font-size="51" fill="#0d0d0d" stroke="#0d0d0d" stroke-width="1.3" letter-spacing="1.1">15</text><rect x="162.61" y="1064.32" width="11.33" height="8.12" fill="#fff"/><rect x="179.38" y="1064.32" width="10.77" height="8.12" fill="#fff"/>
<text x="161.6" y="1220.5" font-size="51" fill="#0d0d0d" stroke="#0d0d0d" stroke-width="1.3" letter-spacing="1.1">10</text><rect x="162.61" y="1214.82" width="11.33" height="8.12" fill="#fff"/><rect x="179.38" y="1214.82" width="10.77" height="8.12" fill="#fff"/>
<text x="191.0" y="1373.0" font-size="51" fill="#0d0d0d" stroke="#0d0d0d" stroke-width="1.3" letter-spacing="1.1">5</text>
<text x="191.0" y="1527.0" font-size="51" fill="#0d0d0d" stroke="#0d0d0d" stroke-width="1.3" letter-spacing="1.1">0</text>
<text x="146.3" y="1582.0" font-size="51" fill="#0d0d0d" stroke="#0d0d0d" stroke-width="1.3" letter-spacing="1.1">1.0</text><rect x="147.34" y="1576.32" width="11.33" height="8.12" fill="#fff"/><rect x="164.11" y="1576.32" width="10.77" height="8.12" fill="#fff"/>
<text x="146.3" y="1696.0" font-size="51" fill="#0d0d0d" stroke="#0d0d0d" stroke-width="1.3" letter-spacing="1.1">0.8</text>
<text x="146.3" y="1810.0" font-size="51" fill="#0d0d0d" stroke="#0d0d0d" stroke-width="1.3" letter-spacing="1.1">0.6</text>
<text x="146.3" y="1923.0" font-size="51" fill="#0d0d0d" stroke="#0d0d0d" stroke-width="1.3" letter-spacing="1.1">0.4</text>
<text x="146.3" y="2038.0" font-size="51" fill="#0d0d0d" stroke="#0d0d0d" stroke-width="1.3" letter-spacing="1.1">0.2</text>
<text x="146.3" y="2152.0" font-size="51" fill="#0d0d0d" stroke="#0d0d0d" stroke-width="1.3" letter-spacing="1.1">0.0</text>
<text x="128.2" y="2266.0" font-size="51" fill="#0d0d0d" stroke="#0d0d0d" stroke-width="1.3" letter-spacing="1.1">-0.2</text>
<text x="244.8" y="2339.5" font-size="51" fill="#0d0d0d" stroke="#0d0d0d" stroke-width="1.3" letter-spacing="1.1">0</text>
<text x="443.5" y="2339.5" font-size="51" fill="#0d0d0d" stroke="#0d0d0d" stroke-width="1.3" letter-spacing="1.1">20</text>
<text x="657.0" y="2339.5" font-size="51" fill="#0d0d0d" stroke="#0d0d0d" stroke-width="1.3" letter-spacing="1.1">40</text>
<text x="870.4" y="2339.5" font-size="51" fill="#0d0d0d" stroke="#0d0d0d" stroke-width="1.3" letter-spacing="1.1">60</text>
<text x="1083.9" y="2339.5" font-size="51" fill="#0d0d0d" stroke="#0d0d0d" stroke-width="1.3" letter-spacing="1.1">80</text>
<text x="1282.6" y="2339.5" font-size="51" fill="#0d0d0d" stroke="#0d0d0d" stroke-width="1.3" letter-spacing="1.1">100</text><rect x="1283.59" y="2333.83" width="11.33" height="8.12" fill="#fff"/><rect x="1300.36" y="2333.83" width="10.77" height="8.12" fill="#fff"/>
<text x="1496.0" y="2339.5" font-size="51" fill="#0d0d0d" stroke="#0d0d0d" stroke-width="1.3" letter-spacing="1.1">120</text><rect x="1497.03" y="2333.83" width="11.33" height="8.12" fill="#fff"/><rect x="1513.80" y="2333.83" width="10.77" height="8.12" fill="#fff"/>
<text x="1709.4" y="2339.5" font-size="51" fill="#0d0d0d" stroke="#0d0d0d" stroke-width="1.3" letter-spacing="1.1">140</text><rect x="1710.47" y="2333.83" width="11.33" height="8.12" fill="#fff"/><rect x="1727.24" y="2333.83" width="10.77" height="8.12" fill="#fff"/>
<text x="1922.9" y="2339.5" font-size="51" fill="#0d0d0d" stroke="#0d0d0d" stroke-width="1.3" letter-spacing="1.1">160</text><rect x="1923.91" y="2333.83" width="11.33" height="8.12" fill="#fff"/><rect x="1940.68" y="2333.83" width="10.77" height="8.12" fill="#fff"/>
<text x="280.3" y="117.5" font-size="110" fill="#0c0c0c" stroke="#0c0c0c" stroke-width="1.6">(A)</text>
<text x="284" y="850.4" font-size="110" fill="#0c0c0c" stroke="#0c0c0c" stroke-width="1.6">(B)</text>
<text x="284" y="1600" font-size="110" fill="#0c0c0c" stroke="#0c0c0c" stroke-width="1.6">(C)</text>
<g transform="translate(116,553.8) rotate(-90) scale(0.9,1)"><text font-size="72" fill="#0a0a0a" stroke="#0a0a0a" stroke-width="2.0"><tspan x="0" y="0">R</tspan><tspan x="58.3" y="19">1</tspan><tspan x="93.8 116.0 144.6 188.2 231.6" y="0"> (sec</tspan><tspan x="271.0 295.4" y="-31" stroke-width="2.6">-1</tspan><tspan x="334.9" y="0">)</tspan></text><rect x="296.88" y="-38.90" width="15.53" height="11.00" fill="#fff"/><rect x="321.02" y="-38.90" width="14.74" height="11.00" fill="#fff"/><rect x="59.77" y="11.40" width="15.83" height="10.40" fill="#fff"/><rect x="83.61" y="11.40" width="15.04" height="10.40" fill="#fff"/></g>
<g transform="translate(90,1290) rotate(-90) scale(0.9,1)"><text font-size="72" fill="#0a0a0a" stroke="#0a0a0a" stroke-width="2.0"><tspan x="0" y="0">R</tspan><tspan x="58.3" y="19">2</tspan><tspan x="97.8 126.3 170.0 213.3" y="0">(sec</tspan><tspan x="252.8 277.2" y="-31" stroke-width="2.6">-1</tspan><tspan x="316.7" y="0">)</tspan></text><rect x="278.66" y="-38.90" width="15.53" height="11.00" fill="#fff"/><rect x="302.80" y="-38.90" width="14.74" height="11.00" fill="#fff"/></g>
<text transform="translate(82,1949) rotate(-90)" font-size="74" font-weight="bold" fill="#000" stroke="#000" stroke-width="1" textLength="143" lengthAdjust="spacingAndGlyphs">NOE</text>
<text x="849" y="2453" font-size="72" font-weight="bold" fill="#000" stroke="#000" stroke-width="1" textLength="537" lengthAdjust="spacingAndGlyphs">Residue Number</text>
</g>
</g>
</svg></body></html>
